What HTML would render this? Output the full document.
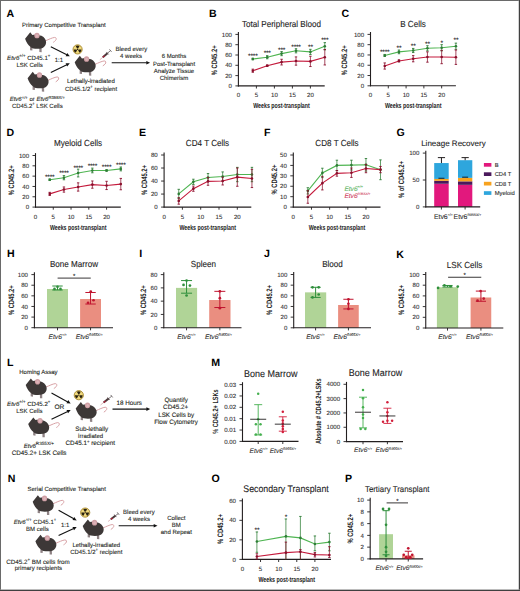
<!DOCTYPE html>
<html><head><meta charset="utf-8"><style>html,body{margin:0;padding:0;background:#fff;}svg{display:block;}</style></head>
<body>
<svg width="520" height="591" viewBox="0 0 520 591" font-family='"Liberation Sans", sans-serif' text-rendering="geometricPrecision">
<rect width="520" height="591" fill="#fff"/>
<text x="6.60" y="16.60" font-size="10.6" font-weight="bold" fill="#000">A</text>
<text x="208.90" y="16.60" font-size="10.6" font-weight="bold" fill="#000">B</text>
<text x="341.50" y="16.60" font-size="10.6" font-weight="bold" fill="#000">C</text>
<text x="6.40" y="136.00" font-size="10.6" font-weight="bold" fill="#000">D</text>
<text x="139.00" y="136.00" font-size="10.6" font-weight="bold" fill="#000">E</text>
<text x="264.00" y="136.00" font-size="10.6" font-weight="bold" fill="#000">F</text>
<text x="396.50" y="136.00" font-size="10.6" font-weight="bold" fill="#000">G</text>
<text x="7.00" y="257.20" font-size="10.6" font-weight="bold" fill="#000">H</text>
<text x="139.30" y="257.20" font-size="10.6" font-weight="bold" fill="#000">I</text>
<text x="264.10" y="257.20" font-size="10.6" font-weight="bold" fill="#000">J</text>
<text x="396.20" y="257.60" font-size="10.6" font-weight="bold" fill="#000">K</text>
<text x="7.00" y="366.00" font-size="10.6" font-weight="bold" fill="#000">L</text>
<text x="211.20" y="366.00" font-size="10.6" font-weight="bold" fill="#000">M</text>
<text x="7.80" y="482.40" font-size="10.6" font-weight="bold" fill="#000">N</text>
<text x="211.40" y="482.00" font-size="10.6" font-weight="bold" fill="#000">O</text>
<text x="345.00" y="481.80" font-size="10.6" font-weight="bold" fill="#000">P</text>
<text x="0.00" y="0.00" font-size="8.829" text-anchor="middle" fill="#222" transform="translate(281.50,26.50) scale(0.917,1)" stroke="#222" stroke-width="0.1">Total Peripheral Blood</text>
<line x1="238.40" y1="32.00" x2="238.40" y2="86.40" stroke="#231f20" stroke-width="1.1"/>
<line x1="235.40" y1="85.90" x2="238.40" y2="85.90" stroke="#231f20" stroke-width="0.9"/>
<text x="232.00" y="88.04" font-size="6.1" text-anchor="end" fill="#333" stroke="#333" stroke-width="0.1">0</text>
<line x1="235.40" y1="75.60" x2="238.40" y2="75.60" stroke="#231f20" stroke-width="0.9"/>
<text x="232.00" y="77.74" font-size="6.1" text-anchor="end" fill="#333" stroke="#333" stroke-width="0.1">20</text>
<line x1="235.40" y1="65.30" x2="238.40" y2="65.30" stroke="#231f20" stroke-width="0.9"/>
<text x="232.00" y="67.44" font-size="6.1" text-anchor="end" fill="#333" stroke="#333" stroke-width="0.1">40</text>
<line x1="235.40" y1="55.00" x2="238.40" y2="55.00" stroke="#231f20" stroke-width="0.9"/>
<text x="232.00" y="57.13" font-size="6.1" text-anchor="end" fill="#333" stroke="#333" stroke-width="0.1">60</text>
<line x1="235.40" y1="44.70" x2="238.40" y2="44.70" stroke="#231f20" stroke-width="0.9"/>
<text x="232.00" y="46.83" font-size="6.1" text-anchor="end" fill="#333" stroke="#333" stroke-width="0.1">80</text>
<line x1="235.40" y1="34.40" x2="238.40" y2="34.40" stroke="#231f20" stroke-width="0.9"/>
<text x="232.00" y="36.53" font-size="6.1" text-anchor="end" fill="#333" stroke="#333" stroke-width="0.1">100</text>
<line x1="237.90" y1="85.90" x2="324.70" y2="85.90" stroke="#231f20" stroke-width="1.1"/>
<text x="238.40" y="97.30" font-size="6.1" text-anchor="middle" fill="#333" stroke="#333" stroke-width="0.1">0</text>
<line x1="256.40" y1="85.90" x2="256.40" y2="88.50" stroke="#231f20" stroke-width="0.9"/>
<text x="256.40" y="97.30" font-size="6.1" text-anchor="middle" fill="#333" stroke="#333" stroke-width="0.1">5</text>
<line x1="274.40" y1="85.90" x2="274.40" y2="88.50" stroke="#231f20" stroke-width="0.9"/>
<text x="274.40" y="97.30" font-size="6.1" text-anchor="middle" fill="#333" stroke="#333" stroke-width="0.1">10</text>
<line x1="292.40" y1="85.90" x2="292.40" y2="88.50" stroke="#231f20" stroke-width="0.9"/>
<text x="292.40" y="97.30" font-size="6.1" text-anchor="middle" fill="#333" stroke="#333" stroke-width="0.1">15</text>
<line x1="310.40" y1="85.90" x2="310.40" y2="88.50" stroke="#231f20" stroke-width="0.9"/>
<text x="310.40" y="97.30" font-size="6.1" text-anchor="middle" fill="#333" stroke="#333" stroke-width="0.1">20</text>
<polyline points="252.80,59.02 267.20,57.21 281.60,53.61 296.00,50.78 310.40,51.91 324.80,46.24" fill="none" stroke="#4fb552" stroke-width="1.1"/>
<line x1="252.80" y1="58.24" x2="252.80" y2="59.79" stroke="#2e7d36" stroke-width="0.75"/>
<line x1="251.60" y1="58.24" x2="254.00" y2="58.24" stroke="#2e7d36" stroke-width="0.9"/>
<line x1="251.60" y1="59.79" x2="254.00" y2="59.79" stroke="#2e7d36" stroke-width="0.9"/>
<circle cx="252.80" cy="59.02" r="1.3" fill="#2e7d36"/>
<line x1="267.20" y1="55.67" x2="267.20" y2="58.76" stroke="#2e7d36" stroke-width="0.75"/>
<line x1="266.00" y1="55.67" x2="268.40" y2="55.67" stroke="#2e7d36" stroke-width="0.9"/>
<line x1="266.00" y1="58.76" x2="268.40" y2="58.76" stroke="#2e7d36" stroke-width="0.9"/>
<circle cx="267.20" cy="57.21" r="1.3" fill="#2e7d36"/>
<line x1="281.60" y1="51.55" x2="281.60" y2="55.67" stroke="#2e7d36" stroke-width="0.75"/>
<line x1="280.40" y1="51.55" x2="282.80" y2="51.55" stroke="#2e7d36" stroke-width="0.9"/>
<line x1="280.40" y1="55.67" x2="282.80" y2="55.67" stroke="#2e7d36" stroke-width="0.9"/>
<circle cx="281.60" cy="53.61" r="1.3" fill="#2e7d36"/>
<line x1="296.00" y1="48.72" x2="296.00" y2="52.84" stroke="#2e7d36" stroke-width="0.75"/>
<line x1="294.80" y1="48.72" x2="297.20" y2="48.72" stroke="#2e7d36" stroke-width="0.9"/>
<line x1="294.80" y1="52.84" x2="297.20" y2="52.84" stroke="#2e7d36" stroke-width="0.9"/>
<circle cx="296.00" cy="50.78" r="1.3" fill="#2e7d36"/>
<line x1="310.40" y1="49.33" x2="310.40" y2="54.48" stroke="#2e7d36" stroke-width="0.75"/>
<line x1="309.20" y1="49.33" x2="311.60" y2="49.33" stroke="#2e7d36" stroke-width="0.9"/>
<line x1="309.20" y1="54.48" x2="311.60" y2="54.48" stroke="#2e7d36" stroke-width="0.9"/>
<circle cx="310.40" cy="51.91" r="1.3" fill="#2e7d36"/>
<line x1="324.80" y1="42.64" x2="324.80" y2="49.85" stroke="#2e7d36" stroke-width="0.75"/>
<line x1="323.60" y1="42.64" x2="326.00" y2="42.64" stroke="#2e7d36" stroke-width="0.9"/>
<line x1="323.60" y1="49.85" x2="326.00" y2="49.85" stroke="#2e7d36" stroke-width="0.9"/>
<circle cx="324.80" cy="46.24" r="1.3" fill="#2e7d36"/>
<polyline points="252.80,70.71 267.20,65.71 281.60,62.11 296.00,61.03 310.40,61.39 324.80,57.21" fill="none" stroke="#c41a3c" stroke-width="1.1"/>
<line x1="252.80" y1="69.16" x2="252.80" y2="72.25" stroke="#8a0f2c" stroke-width="0.75"/>
<line x1="251.60" y1="69.16" x2="254.00" y2="69.16" stroke="#8a0f2c" stroke-width="0.9"/>
<line x1="251.60" y1="72.25" x2="254.00" y2="72.25" stroke="#8a0f2c" stroke-width="0.9"/>
<circle cx="252.80" cy="70.71" r="1.3" fill="#8a0f2c"/>
<line x1="267.20" y1="64.94" x2="267.20" y2="66.48" stroke="#8a0f2c" stroke-width="0.75"/>
<line x1="266.00" y1="64.94" x2="268.40" y2="64.94" stroke="#8a0f2c" stroke-width="0.9"/>
<line x1="266.00" y1="66.48" x2="268.40" y2="66.48" stroke="#8a0f2c" stroke-width="0.9"/>
<circle cx="267.20" cy="65.71" r="1.3" fill="#8a0f2c"/>
<line x1="281.60" y1="59.27" x2="281.60" y2="64.94" stroke="#8a0f2c" stroke-width="0.75"/>
<line x1="280.40" y1="59.27" x2="282.80" y2="59.27" stroke="#8a0f2c" stroke-width="0.9"/>
<line x1="280.40" y1="64.94" x2="282.80" y2="64.94" stroke="#8a0f2c" stroke-width="0.9"/>
<circle cx="281.60" cy="62.11" r="1.3" fill="#8a0f2c"/>
<line x1="296.00" y1="56.91" x2="296.00" y2="65.15" stroke="#8a0f2c" stroke-width="0.75"/>
<line x1="294.80" y1="56.91" x2="297.20" y2="56.91" stroke="#8a0f2c" stroke-width="0.9"/>
<line x1="294.80" y1="65.15" x2="297.20" y2="65.15" stroke="#8a0f2c" stroke-width="0.9"/>
<circle cx="296.00" cy="61.03" r="1.3" fill="#8a0f2c"/>
<line x1="310.40" y1="56.24" x2="310.40" y2="66.54" stroke="#8a0f2c" stroke-width="0.75"/>
<line x1="309.20" y1="56.24" x2="311.60" y2="56.24" stroke="#8a0f2c" stroke-width="0.9"/>
<line x1="309.20" y1="66.54" x2="311.60" y2="66.54" stroke="#8a0f2c" stroke-width="0.9"/>
<circle cx="310.40" cy="61.39" r="1.3" fill="#8a0f2c"/>
<line x1="324.80" y1="49.49" x2="324.80" y2="64.94" stroke="#8a0f2c" stroke-width="0.75"/>
<line x1="323.60" y1="49.49" x2="326.00" y2="49.49" stroke="#8a0f2c" stroke-width="0.9"/>
<line x1="323.60" y1="64.94" x2="326.00" y2="64.94" stroke="#8a0f2c" stroke-width="0.9"/>
<circle cx="324.80" cy="57.21" r="1.3" fill="#8a0f2c"/>
<text x="252.80" y="58.00" font-size="6.6" text-anchor="middle" fill="#1a1a1a" letter-spacing="-0.2" stroke="#1a1a1a" stroke-width="0.1">****</text>
<text x="267.20" y="54.50" font-size="6.6" text-anchor="middle" fill="#1a1a1a" letter-spacing="-0.2" stroke="#1a1a1a" stroke-width="0.1">***</text>
<text x="281.60" y="51.60" font-size="6.6" text-anchor="middle" fill="#1a1a1a" letter-spacing="-0.2" stroke="#1a1a1a" stroke-width="0.1">***</text>
<text x="296.00" y="48.50" font-size="6.6" text-anchor="middle" fill="#1a1a1a" letter-spacing="-0.2" stroke="#1a1a1a" stroke-width="0.1">****</text>
<text x="310.40" y="49.20" font-size="6.6" text-anchor="middle" fill="#1a1a1a" letter-spacing="-0.2" stroke="#1a1a1a" stroke-width="0.1">**</text>
<text x="324.80" y="41.80" font-size="6.6" text-anchor="middle" fill="#1a1a1a" letter-spacing="-0.2" stroke="#1a1a1a" stroke-width="0.1">***</text>
<text x="0.00" y="0.00" font-size="7.9" text-anchor="middle" font-weight="bold" fill="#222" transform="translate(216.70,60.40) rotate(-90) scale(0.735,1)">% CD45.2+</text>
<text x="0.00" y="0.00" font-size="7.4" text-anchor="middle" font-weight="bold" fill="#222" transform="translate(281.50,108.30) scale(0.715,1)">Weeks post-transplant</text>
<text x="0.00" y="0.00" font-size="8.829" text-anchor="middle" fill="#222" transform="translate(413.00,26.50) scale(0.917,1)" stroke="#222" stroke-width="0.1">B Cells</text>
<line x1="370.50" y1="32.00" x2="370.50" y2="86.30" stroke="#231f20" stroke-width="1.1"/>
<line x1="367.50" y1="85.80" x2="370.50" y2="85.80" stroke="#231f20" stroke-width="0.9"/>
<text x="364.10" y="87.94" font-size="6.1" text-anchor="end" fill="#333" stroke="#333" stroke-width="0.1">0</text>
<line x1="367.50" y1="75.52" x2="370.50" y2="75.52" stroke="#231f20" stroke-width="0.9"/>
<text x="364.10" y="77.66" font-size="6.1" text-anchor="end" fill="#333" stroke="#333" stroke-width="0.1">20</text>
<line x1="367.50" y1="65.24" x2="370.50" y2="65.24" stroke="#231f20" stroke-width="0.9"/>
<text x="364.10" y="67.38" font-size="6.1" text-anchor="end" fill="#333" stroke="#333" stroke-width="0.1">40</text>
<line x1="367.50" y1="54.96" x2="370.50" y2="54.96" stroke="#231f20" stroke-width="0.9"/>
<text x="364.10" y="57.09" font-size="6.1" text-anchor="end" fill="#333" stroke="#333" stroke-width="0.1">60</text>
<line x1="367.50" y1="44.68" x2="370.50" y2="44.68" stroke="#231f20" stroke-width="0.9"/>
<text x="364.10" y="46.81" font-size="6.1" text-anchor="end" fill="#333" stroke="#333" stroke-width="0.1">80</text>
<line x1="367.50" y1="34.40" x2="370.50" y2="34.40" stroke="#231f20" stroke-width="0.9"/>
<text x="364.10" y="36.53" font-size="6.1" text-anchor="end" fill="#333" stroke="#333" stroke-width="0.1">100</text>
<line x1="370.00" y1="85.80" x2="455.90" y2="85.80" stroke="#231f20" stroke-width="1.1"/>
<text x="370.50" y="97.20" font-size="6.1" text-anchor="middle" fill="#333" stroke="#333" stroke-width="0.1">0</text>
<line x1="388.29" y1="85.80" x2="388.29" y2="88.40" stroke="#231f20" stroke-width="0.9"/>
<text x="388.29" y="97.20" font-size="6.1" text-anchor="middle" fill="#333" stroke="#333" stroke-width="0.1">5</text>
<line x1="406.08" y1="85.80" x2="406.08" y2="88.40" stroke="#231f20" stroke-width="0.9"/>
<text x="406.08" y="97.20" font-size="6.1" text-anchor="middle" fill="#333" stroke="#333" stroke-width="0.1">10</text>
<line x1="423.87" y1="85.80" x2="423.87" y2="88.40" stroke="#231f20" stroke-width="0.9"/>
<text x="423.87" y="97.20" font-size="6.1" text-anchor="middle" fill="#333" stroke="#333" stroke-width="0.1">15</text>
<line x1="441.66" y1="85.80" x2="441.66" y2="88.40" stroke="#231f20" stroke-width="0.9"/>
<text x="441.66" y="97.20" font-size="6.1" text-anchor="middle" fill="#333" stroke="#333" stroke-width="0.1">20</text>
<polyline points="384.73,55.47 398.96,51.88 413.20,50.49 427.43,48.28 441.66,47.76 455.89,46.22" fill="none" stroke="#4fb552" stroke-width="1.1"/>
<line x1="384.73" y1="54.45" x2="384.73" y2="56.50" stroke="#2e7d36" stroke-width="0.75"/>
<line x1="383.53" y1="54.45" x2="385.93" y2="54.45" stroke="#2e7d36" stroke-width="0.9"/>
<line x1="383.53" y1="56.50" x2="385.93" y2="56.50" stroke="#2e7d36" stroke-width="0.9"/>
<circle cx="384.73" cy="55.47" r="1.3" fill="#2e7d36"/>
<line x1="398.96" y1="50.03" x2="398.96" y2="53.73" stroke="#2e7d36" stroke-width="0.75"/>
<line x1="397.76" y1="50.03" x2="400.16" y2="50.03" stroke="#2e7d36" stroke-width="0.9"/>
<line x1="397.76" y1="53.73" x2="400.16" y2="53.73" stroke="#2e7d36" stroke-width="0.9"/>
<circle cx="398.96" cy="51.88" r="1.3" fill="#2e7d36"/>
<line x1="413.20" y1="48.43" x2="413.20" y2="52.54" stroke="#2e7d36" stroke-width="0.75"/>
<line x1="412.00" y1="48.43" x2="414.40" y2="48.43" stroke="#2e7d36" stroke-width="0.9"/>
<line x1="412.00" y1="52.54" x2="414.40" y2="52.54" stroke="#2e7d36" stroke-width="0.9"/>
<circle cx="413.20" cy="50.49" r="1.3" fill="#2e7d36"/>
<line x1="427.43" y1="45.71" x2="427.43" y2="50.85" stroke="#2e7d36" stroke-width="0.75"/>
<line x1="426.23" y1="45.71" x2="428.63" y2="45.71" stroke="#2e7d36" stroke-width="0.9"/>
<line x1="426.23" y1="50.85" x2="428.63" y2="50.85" stroke="#2e7d36" stroke-width="0.9"/>
<circle cx="427.43" cy="48.28" r="1.3" fill="#2e7d36"/>
<line x1="441.66" y1="44.68" x2="441.66" y2="50.85" stroke="#2e7d36" stroke-width="0.75"/>
<line x1="440.46" y1="44.68" x2="442.86" y2="44.68" stroke="#2e7d36" stroke-width="0.9"/>
<line x1="440.46" y1="50.85" x2="442.86" y2="50.85" stroke="#2e7d36" stroke-width="0.9"/>
<circle cx="441.66" cy="47.76" r="1.3" fill="#2e7d36"/>
<line x1="455.89" y1="43.14" x2="455.89" y2="49.31" stroke="#2e7d36" stroke-width="0.75"/>
<line x1="454.69" y1="43.14" x2="457.09" y2="43.14" stroke="#2e7d36" stroke-width="0.9"/>
<line x1="454.69" y1="49.31" x2="457.09" y2="49.31" stroke="#2e7d36" stroke-width="0.9"/>
<circle cx="455.89" cy="46.22" r="1.3" fill="#2e7d36"/>
<polyline points="384.73,66.01 398.96,60.92 413.20,58.71 427.43,57.02 441.66,57.02 455.89,57.22" fill="none" stroke="#c41a3c" stroke-width="1.1"/>
<line x1="384.73" y1="62.93" x2="384.73" y2="69.09" stroke="#8a0f2c" stroke-width="0.75"/>
<line x1="383.53" y1="62.93" x2="385.93" y2="62.93" stroke="#8a0f2c" stroke-width="0.9"/>
<line x1="383.53" y1="69.09" x2="385.93" y2="69.09" stroke="#8a0f2c" stroke-width="0.9"/>
<circle cx="384.73" cy="66.01" r="1.3" fill="#8a0f2c"/>
<line x1="398.96" y1="59.89" x2="398.96" y2="61.95" stroke="#8a0f2c" stroke-width="0.75"/>
<line x1="397.76" y1="59.89" x2="400.16" y2="59.89" stroke="#8a0f2c" stroke-width="0.9"/>
<line x1="397.76" y1="61.95" x2="400.16" y2="61.95" stroke="#8a0f2c" stroke-width="0.9"/>
<circle cx="398.96" cy="60.92" r="1.3" fill="#8a0f2c"/>
<line x1="413.20" y1="55.63" x2="413.20" y2="61.80" stroke="#8a0f2c" stroke-width="0.75"/>
<line x1="412.00" y1="55.63" x2="414.40" y2="55.63" stroke="#8a0f2c" stroke-width="0.9"/>
<line x1="412.00" y1="61.80" x2="414.40" y2="61.80" stroke="#8a0f2c" stroke-width="0.9"/>
<circle cx="413.20" cy="58.71" r="1.3" fill="#8a0f2c"/>
<line x1="427.43" y1="51.88" x2="427.43" y2="62.16" stroke="#8a0f2c" stroke-width="0.75"/>
<line x1="426.23" y1="51.88" x2="428.63" y2="51.88" stroke="#8a0f2c" stroke-width="0.9"/>
<line x1="426.23" y1="62.16" x2="428.63" y2="62.16" stroke="#8a0f2c" stroke-width="0.9"/>
<circle cx="427.43" cy="57.02" r="1.3" fill="#8a0f2c"/>
<line x1="441.66" y1="50.33" x2="441.66" y2="63.70" stroke="#8a0f2c" stroke-width="0.75"/>
<line x1="440.46" y1="50.33" x2="442.86" y2="50.33" stroke="#8a0f2c" stroke-width="0.9"/>
<line x1="440.46" y1="63.70" x2="442.86" y2="63.70" stroke="#8a0f2c" stroke-width="0.9"/>
<circle cx="441.66" cy="57.02" r="1.3" fill="#8a0f2c"/>
<line x1="455.89" y1="50.03" x2="455.89" y2="64.42" stroke="#8a0f2c" stroke-width="0.75"/>
<line x1="454.69" y1="50.03" x2="457.09" y2="50.03" stroke="#8a0f2c" stroke-width="0.9"/>
<line x1="454.69" y1="64.42" x2="457.09" y2="64.42" stroke="#8a0f2c" stroke-width="0.9"/>
<circle cx="455.89" cy="57.22" r="1.3" fill="#8a0f2c"/>
<text x="384.73" y="54.40" font-size="6.6" text-anchor="middle" fill="#1a1a1a" letter-spacing="-0.2" stroke="#1a1a1a" stroke-width="0.1">****</text>
<text x="398.96" y="49.60" font-size="6.6" text-anchor="middle" fill="#1a1a1a" letter-spacing="-0.2" stroke="#1a1a1a" stroke-width="0.1">**</text>
<text x="413.20" y="48.40" font-size="6.6" text-anchor="middle" fill="#1a1a1a" letter-spacing="-0.2" stroke="#1a1a1a" stroke-width="0.1">**</text>
<text x="427.43" y="46.00" font-size="6.6" text-anchor="middle" fill="#1a1a1a" letter-spacing="-0.2" stroke="#1a1a1a" stroke-width="0.1">**</text>
<text x="441.66" y="44.70" font-size="6.6" text-anchor="middle" fill="#1a1a1a" letter-spacing="-0.2" stroke="#1a1a1a" stroke-width="0.1">*</text>
<text x="455.89" y="42.00" font-size="6.6" text-anchor="middle" fill="#1a1a1a" letter-spacing="-0.2" stroke="#1a1a1a" stroke-width="0.1">**</text>
<text x="0.00" y="0.00" font-size="7.9" text-anchor="middle" font-weight="bold" fill="#222" transform="translate(347.40,60.40) rotate(-90) scale(0.735,1)">% CD45.2+</text>
<text x="0.00" y="0.00" font-size="7.4" text-anchor="middle" font-weight="bold" fill="#222" transform="translate(413.20,108.30) scale(0.715,1)">Weeks post-transplant</text>
<text x="0.00" y="0.00" font-size="8.829" text-anchor="middle" fill="#222" transform="translate(78.00,145.60) scale(0.917,1)" stroke="#222" stroke-width="0.1">Myeloid Cells</text>
<line x1="35.50" y1="153.10" x2="35.50" y2="207.60" stroke="#231f20" stroke-width="1.1"/>
<line x1="32.50" y1="207.10" x2="35.50" y2="207.10" stroke="#231f20" stroke-width="0.9"/>
<text x="29.10" y="209.23" font-size="6.1" text-anchor="end" fill="#333" stroke="#333" stroke-width="0.1">0</text>
<line x1="32.50" y1="196.78" x2="35.50" y2="196.78" stroke="#231f20" stroke-width="0.9"/>
<text x="29.10" y="198.91" font-size="6.1" text-anchor="end" fill="#333" stroke="#333" stroke-width="0.1">20</text>
<line x1="32.50" y1="186.46" x2="35.50" y2="186.46" stroke="#231f20" stroke-width="0.9"/>
<text x="29.10" y="188.59" font-size="6.1" text-anchor="end" fill="#333" stroke="#333" stroke-width="0.1">40</text>
<line x1="32.50" y1="176.14" x2="35.50" y2="176.14" stroke="#231f20" stroke-width="0.9"/>
<text x="29.10" y="178.27" font-size="6.1" text-anchor="end" fill="#333" stroke="#333" stroke-width="0.1">60</text>
<line x1="32.50" y1="165.82" x2="35.50" y2="165.82" stroke="#231f20" stroke-width="0.9"/>
<text x="29.10" y="167.95" font-size="6.1" text-anchor="end" fill="#333" stroke="#333" stroke-width="0.1">80</text>
<line x1="32.50" y1="155.50" x2="35.50" y2="155.50" stroke="#231f20" stroke-width="0.9"/>
<text x="29.10" y="157.63" font-size="6.1" text-anchor="end" fill="#333" stroke="#333" stroke-width="0.1">100</text>
<line x1="35.00" y1="207.10" x2="120.80" y2="207.10" stroke="#231f20" stroke-width="1.1"/>
<text x="35.50" y="218.50" font-size="6.1" text-anchor="middle" fill="#333" stroke="#333" stroke-width="0.1">0</text>
<line x1="53.27" y1="207.10" x2="53.27" y2="209.70" stroke="#231f20" stroke-width="0.9"/>
<text x="53.27" y="218.50" font-size="6.1" text-anchor="middle" fill="#333" stroke="#333" stroke-width="0.1">5</text>
<line x1="71.04" y1="207.10" x2="71.04" y2="209.70" stroke="#231f20" stroke-width="0.9"/>
<text x="71.04" y="218.50" font-size="6.1" text-anchor="middle" fill="#333" stroke="#333" stroke-width="0.1">10</text>
<line x1="88.81" y1="207.10" x2="88.81" y2="209.70" stroke="#231f20" stroke-width="0.9"/>
<text x="88.81" y="218.50" font-size="6.1" text-anchor="middle" fill="#333" stroke="#333" stroke-width="0.1">15</text>
<line x1="106.58" y1="207.10" x2="106.58" y2="209.70" stroke="#231f20" stroke-width="0.9"/>
<text x="106.58" y="218.50" font-size="6.1" text-anchor="middle" fill="#333" stroke="#333" stroke-width="0.1">20</text>
<polyline points="49.72,179.75 63.93,177.69 78.15,173.04 92.36,170.46 106.58,170.46 120.80,168.92" fill="none" stroke="#4fb552" stroke-width="1.1"/>
<line x1="49.72" y1="178.98" x2="49.72" y2="180.53" stroke="#2e7d36" stroke-width="0.75"/>
<line x1="48.52" y1="178.98" x2="50.92" y2="178.98" stroke="#2e7d36" stroke-width="0.9"/>
<line x1="48.52" y1="180.53" x2="50.92" y2="180.53" stroke="#2e7d36" stroke-width="0.9"/>
<circle cx="49.72" cy="179.75" r="1.3" fill="#2e7d36"/>
<line x1="63.93" y1="175.62" x2="63.93" y2="179.75" stroke="#2e7d36" stroke-width="0.75"/>
<line x1="62.73" y1="175.62" x2="65.13" y2="175.62" stroke="#2e7d36" stroke-width="0.9"/>
<line x1="62.73" y1="179.75" x2="65.13" y2="179.75" stroke="#2e7d36" stroke-width="0.9"/>
<circle cx="63.93" cy="177.69" r="1.3" fill="#2e7d36"/>
<line x1="78.15" y1="169.17" x2="78.15" y2="176.91" stroke="#2e7d36" stroke-width="0.75"/>
<line x1="76.95" y1="169.17" x2="79.35" y2="169.17" stroke="#2e7d36" stroke-width="0.9"/>
<line x1="76.95" y1="176.91" x2="79.35" y2="176.91" stroke="#2e7d36" stroke-width="0.9"/>
<circle cx="78.15" cy="173.04" r="1.3" fill="#2e7d36"/>
<line x1="92.36" y1="168.14" x2="92.36" y2="172.79" stroke="#2e7d36" stroke-width="0.75"/>
<line x1="91.16" y1="168.14" x2="93.56" y2="168.14" stroke="#2e7d36" stroke-width="0.9"/>
<line x1="91.16" y1="172.79" x2="93.56" y2="172.79" stroke="#2e7d36" stroke-width="0.9"/>
<circle cx="92.36" cy="170.46" r="1.3" fill="#2e7d36"/>
<line x1="106.58" y1="169.69" x2="106.58" y2="171.24" stroke="#2e7d36" stroke-width="0.75"/>
<line x1="105.38" y1="169.69" x2="107.78" y2="169.69" stroke="#2e7d36" stroke-width="0.9"/>
<line x1="105.38" y1="171.24" x2="107.78" y2="171.24" stroke="#2e7d36" stroke-width="0.9"/>
<circle cx="106.58" cy="170.46" r="1.3" fill="#2e7d36"/>
<line x1="120.80" y1="167.01" x2="120.80" y2="170.83" stroke="#2e7d36" stroke-width="0.75"/>
<line x1="119.60" y1="167.01" x2="122.00" y2="167.01" stroke="#2e7d36" stroke-width="0.9"/>
<line x1="119.60" y1="170.83" x2="122.00" y2="170.83" stroke="#2e7d36" stroke-width="0.9"/>
<circle cx="120.80" cy="168.92" r="1.3" fill="#2e7d36"/>
<polyline points="49.72,193.89 63.93,189.56 78.15,186.98 92.36,184.60 106.58,185.43 120.80,184.09" fill="none" stroke="#c41a3c" stroke-width="1.1"/>
<line x1="49.72" y1="192.34" x2="49.72" y2="195.44" stroke="#8a0f2c" stroke-width="0.75"/>
<line x1="48.52" y1="192.34" x2="50.92" y2="192.34" stroke="#8a0f2c" stroke-width="0.9"/>
<line x1="48.52" y1="195.44" x2="50.92" y2="195.44" stroke="#8a0f2c" stroke-width="0.9"/>
<circle cx="49.72" cy="193.89" r="1.3" fill="#8a0f2c"/>
<line x1="63.93" y1="186.98" x2="63.93" y2="192.14" stroke="#8a0f2c" stroke-width="0.75"/>
<line x1="62.73" y1="186.98" x2="65.13" y2="186.98" stroke="#8a0f2c" stroke-width="0.9"/>
<line x1="62.73" y1="192.14" x2="65.13" y2="192.14" stroke="#8a0f2c" stroke-width="0.9"/>
<circle cx="63.93" cy="189.56" r="1.3" fill="#8a0f2c"/>
<line x1="78.15" y1="182.85" x2="78.15" y2="191.10" stroke="#8a0f2c" stroke-width="0.75"/>
<line x1="76.95" y1="182.85" x2="79.35" y2="182.85" stroke="#8a0f2c" stroke-width="0.9"/>
<line x1="76.95" y1="191.10" x2="79.35" y2="191.10" stroke="#8a0f2c" stroke-width="0.9"/>
<circle cx="78.15" cy="186.98" r="1.3" fill="#8a0f2c"/>
<line x1="92.36" y1="180.99" x2="92.36" y2="188.21" stroke="#8a0f2c" stroke-width="0.75"/>
<line x1="91.16" y1="180.99" x2="93.56" y2="180.99" stroke="#8a0f2c" stroke-width="0.9"/>
<line x1="91.16" y1="188.21" x2="93.56" y2="188.21" stroke="#8a0f2c" stroke-width="0.9"/>
<circle cx="92.36" cy="184.60" r="1.3" fill="#8a0f2c"/>
<line x1="106.58" y1="181.30" x2="106.58" y2="189.56" stroke="#8a0f2c" stroke-width="0.75"/>
<line x1="105.38" y1="181.30" x2="107.78" y2="181.30" stroke="#8a0f2c" stroke-width="0.9"/>
<line x1="105.38" y1="189.56" x2="107.78" y2="189.56" stroke="#8a0f2c" stroke-width="0.9"/>
<circle cx="106.58" cy="185.43" r="1.3" fill="#8a0f2c"/>
<line x1="120.80" y1="178.41" x2="120.80" y2="189.76" stroke="#8a0f2c" stroke-width="0.75"/>
<line x1="119.60" y1="178.41" x2="122.00" y2="178.41" stroke="#8a0f2c" stroke-width="0.9"/>
<line x1="119.60" y1="189.76" x2="122.00" y2="189.76" stroke="#8a0f2c" stroke-width="0.9"/>
<circle cx="120.80" cy="184.09" r="1.3" fill="#8a0f2c"/>
<text x="49.72" y="178.70" font-size="6.6" text-anchor="middle" fill="#1a1a1a" letter-spacing="-0.2" stroke="#1a1a1a" stroke-width="0.1">****</text>
<text x="63.93" y="175.10" font-size="6.6" text-anchor="middle" fill="#1a1a1a" letter-spacing="-0.2" stroke="#1a1a1a" stroke-width="0.1">****</text>
<text x="78.15" y="169.70" font-size="6.6" text-anchor="middle" fill="#1a1a1a" letter-spacing="-0.2" stroke="#1a1a1a" stroke-width="0.1">****</text>
<text x="92.36" y="167.80" font-size="6.6" text-anchor="middle" fill="#1a1a1a" letter-spacing="-0.2" stroke="#1a1a1a" stroke-width="0.1">****</text>
<text x="106.58" y="169.40" font-size="6.6" text-anchor="middle" fill="#1a1a1a" letter-spacing="-0.2" stroke="#1a1a1a" stroke-width="0.1">****</text>
<text x="120.80" y="166.60" font-size="6.6" text-anchor="middle" fill="#1a1a1a" letter-spacing="-0.2" stroke="#1a1a1a" stroke-width="0.1">****</text>
<text x="0.00" y="0.00" font-size="7.9" text-anchor="middle" font-weight="bold" fill="#222" transform="translate(14.20,180.40) rotate(-90) scale(0.735,1)">% CD45.2+</text>
<text x="0.00" y="0.00" font-size="7.4" text-anchor="middle" font-weight="bold" fill="#222" transform="translate(78.20,229.50) scale(0.715,1)">Weeks post-transplant</text>
<text x="0.00" y="0.00" font-size="8.829" text-anchor="middle" fill="#222" transform="translate(207.50,145.60) scale(0.917,1)" stroke="#222" stroke-width="0.1">CD4 T Cells</text>
<line x1="164.10" y1="152.60" x2="164.10" y2="207.60" stroke="#231f20" stroke-width="1.1"/>
<line x1="161.10" y1="207.10" x2="164.10" y2="207.10" stroke="#231f20" stroke-width="0.9"/>
<text x="157.70" y="209.23" font-size="6.1" text-anchor="end" fill="#333" stroke="#333" stroke-width="0.1">0</text>
<line x1="161.10" y1="194.07" x2="164.10" y2="194.07" stroke="#231f20" stroke-width="0.9"/>
<text x="157.70" y="196.21" font-size="6.1" text-anchor="end" fill="#333" stroke="#333" stroke-width="0.1">20</text>
<line x1="161.10" y1="181.05" x2="164.10" y2="181.05" stroke="#231f20" stroke-width="0.9"/>
<text x="157.70" y="183.19" font-size="6.1" text-anchor="end" fill="#333" stroke="#333" stroke-width="0.1">40</text>
<line x1="161.10" y1="168.03" x2="164.10" y2="168.03" stroke="#231f20" stroke-width="0.9"/>
<text x="157.70" y="170.16" font-size="6.1" text-anchor="end" fill="#333" stroke="#333" stroke-width="0.1">60</text>
<line x1="161.10" y1="155.00" x2="164.10" y2="155.00" stroke="#231f20" stroke-width="0.9"/>
<text x="157.70" y="157.13" font-size="6.1" text-anchor="end" fill="#333" stroke="#333" stroke-width="0.1">80</text>
<line x1="163.60" y1="207.10" x2="251.30" y2="207.10" stroke="#231f20" stroke-width="1.1"/>
<text x="164.10" y="218.50" font-size="6.1" text-anchor="middle" fill="#333" stroke="#333" stroke-width="0.1">0</text>
<line x1="182.40" y1="207.10" x2="182.40" y2="209.70" stroke="#231f20" stroke-width="0.9"/>
<text x="182.40" y="218.50" font-size="6.1" text-anchor="middle" fill="#333" stroke="#333" stroke-width="0.1">5</text>
<line x1="200.70" y1="207.10" x2="200.70" y2="209.70" stroke="#231f20" stroke-width="0.9"/>
<text x="200.70" y="218.50" font-size="6.1" text-anchor="middle" fill="#333" stroke="#333" stroke-width="0.1">10</text>
<line x1="219.00" y1="207.10" x2="219.00" y2="209.70" stroke="#231f20" stroke-width="0.9"/>
<text x="219.00" y="218.50" font-size="6.1" text-anchor="middle" fill="#333" stroke="#333" stroke-width="0.1">15</text>
<line x1="237.30" y1="207.10" x2="237.30" y2="209.70" stroke="#231f20" stroke-width="0.9"/>
<text x="237.30" y="218.50" font-size="6.1" text-anchor="middle" fill="#333" stroke="#333" stroke-width="0.1">20</text>
<polyline points="178.74,193.88 193.38,181.83 208.02,177.47 222.66,176.49 237.30,174.54 251.94,174.54" fill="none" stroke="#4fb552" stroke-width="1.1"/>
<line x1="178.74" y1="189.32" x2="178.74" y2="198.44" stroke="#2e7d36" stroke-width="0.75"/>
<line x1="177.54" y1="189.32" x2="179.94" y2="189.32" stroke="#2e7d36" stroke-width="0.9"/>
<line x1="177.54" y1="198.44" x2="179.94" y2="198.44" stroke="#2e7d36" stroke-width="0.9"/>
<circle cx="178.74" cy="193.88" r="1.3" fill="#2e7d36"/>
<line x1="193.38" y1="179.23" x2="193.38" y2="184.44" stroke="#2e7d36" stroke-width="0.75"/>
<line x1="192.18" y1="179.23" x2="194.58" y2="179.23" stroke="#2e7d36" stroke-width="0.9"/>
<line x1="192.18" y1="184.44" x2="194.58" y2="184.44" stroke="#2e7d36" stroke-width="0.9"/>
<circle cx="193.38" cy="181.83" r="1.3" fill="#2e7d36"/>
<line x1="208.02" y1="173.56" x2="208.02" y2="181.38" stroke="#2e7d36" stroke-width="0.75"/>
<line x1="206.82" y1="173.56" x2="209.22" y2="173.56" stroke="#2e7d36" stroke-width="0.9"/>
<line x1="206.82" y1="181.38" x2="209.22" y2="181.38" stroke="#2e7d36" stroke-width="0.9"/>
<circle cx="208.02" cy="177.47" r="1.3" fill="#2e7d36"/>
<line x1="222.66" y1="171.93" x2="222.66" y2="181.05" stroke="#2e7d36" stroke-width="0.75"/>
<line x1="221.46" y1="171.93" x2="223.86" y2="171.93" stroke="#2e7d36" stroke-width="0.9"/>
<line x1="221.46" y1="181.05" x2="223.86" y2="181.05" stroke="#2e7d36" stroke-width="0.9"/>
<circle cx="222.66" cy="176.49" r="1.3" fill="#2e7d36"/>
<line x1="237.30" y1="167.37" x2="237.30" y2="181.70" stroke="#2e7d36" stroke-width="0.75"/>
<line x1="236.10" y1="167.37" x2="238.50" y2="167.37" stroke="#2e7d36" stroke-width="0.9"/>
<line x1="236.10" y1="181.70" x2="238.50" y2="181.70" stroke="#2e7d36" stroke-width="0.9"/>
<circle cx="237.30" cy="174.54" r="1.3" fill="#2e7d36"/>
<line x1="251.94" y1="167.37" x2="251.94" y2="181.70" stroke="#2e7d36" stroke-width="0.75"/>
<line x1="250.74" y1="167.37" x2="253.14" y2="167.37" stroke="#2e7d36" stroke-width="0.9"/>
<line x1="250.74" y1="181.70" x2="253.14" y2="181.70" stroke="#2e7d36" stroke-width="0.9"/>
<circle cx="251.94" cy="174.54" r="1.3" fill="#2e7d36"/>
<polyline points="178.74,200.91 193.38,188.67 208.02,181.38 222.66,181.05 237.30,177.14 251.94,178.44" fill="none" stroke="#c41a3c" stroke-width="1.1"/>
<line x1="178.74" y1="197.66" x2="178.74" y2="204.17" stroke="#8a0f2c" stroke-width="0.75"/>
<line x1="177.54" y1="197.66" x2="179.94" y2="197.66" stroke="#8a0f2c" stroke-width="0.9"/>
<line x1="177.54" y1="204.17" x2="179.94" y2="204.17" stroke="#8a0f2c" stroke-width="0.9"/>
<circle cx="178.74" cy="200.91" r="1.3" fill="#8a0f2c"/>
<line x1="193.38" y1="186.06" x2="193.38" y2="191.27" stroke="#8a0f2c" stroke-width="0.75"/>
<line x1="192.18" y1="186.06" x2="194.58" y2="186.06" stroke="#8a0f2c" stroke-width="0.9"/>
<line x1="192.18" y1="191.27" x2="194.58" y2="191.27" stroke="#8a0f2c" stroke-width="0.9"/>
<circle cx="193.38" cy="188.67" r="1.3" fill="#8a0f2c"/>
<line x1="208.02" y1="177.47" x2="208.02" y2="185.28" stroke="#8a0f2c" stroke-width="0.75"/>
<line x1="206.82" y1="177.47" x2="209.22" y2="177.47" stroke="#8a0f2c" stroke-width="0.9"/>
<line x1="206.82" y1="185.28" x2="209.22" y2="185.28" stroke="#8a0f2c" stroke-width="0.9"/>
<circle cx="208.02" cy="181.38" r="1.3" fill="#8a0f2c"/>
<line x1="222.66" y1="177.14" x2="222.66" y2="184.96" stroke="#8a0f2c" stroke-width="0.75"/>
<line x1="221.46" y1="177.14" x2="223.86" y2="177.14" stroke="#8a0f2c" stroke-width="0.9"/>
<line x1="221.46" y1="184.96" x2="223.86" y2="184.96" stroke="#8a0f2c" stroke-width="0.9"/>
<circle cx="222.66" cy="181.05" r="1.3" fill="#8a0f2c"/>
<line x1="237.30" y1="168.03" x2="237.30" y2="186.26" stroke="#8a0f2c" stroke-width="0.75"/>
<line x1="236.10" y1="168.03" x2="238.50" y2="168.03" stroke="#8a0f2c" stroke-width="0.9"/>
<line x1="236.10" y1="186.26" x2="238.50" y2="186.26" stroke="#8a0f2c" stroke-width="0.9"/>
<circle cx="237.30" cy="177.14" r="1.3" fill="#8a0f2c"/>
<line x1="251.94" y1="169.33" x2="251.94" y2="187.56" stroke="#8a0f2c" stroke-width="0.75"/>
<line x1="250.74" y1="169.33" x2="253.14" y2="169.33" stroke="#8a0f2c" stroke-width="0.9"/>
<line x1="250.74" y1="187.56" x2="253.14" y2="187.56" stroke="#8a0f2c" stroke-width="0.9"/>
<circle cx="251.94" cy="178.44" r="1.3" fill="#8a0f2c"/>
<text x="0.00" y="0.00" font-size="7.9" text-anchor="middle" font-weight="bold" fill="#222" transform="translate(146.50,180.00) rotate(-90) scale(0.735,1)">% CD45.2+</text>
<text x="0.00" y="0.00" font-size="7.4" text-anchor="middle" font-weight="bold" fill="#222" transform="translate(207.70,229.50) scale(0.715,1)">Weeks post-transplant</text>
<text x="0.00" y="0.00" font-size="8.829" text-anchor="middle" fill="#222" transform="translate(337.00,145.60) scale(0.917,1)" stroke="#222" stroke-width="0.1">CD8 T Cells</text>
<line x1="293.30" y1="152.60" x2="293.30" y2="207.60" stroke="#231f20" stroke-width="1.1"/>
<line x1="290.30" y1="207.10" x2="293.30" y2="207.10" stroke="#231f20" stroke-width="0.9"/>
<text x="286.90" y="209.23" font-size="6.1" text-anchor="end" fill="#333" stroke="#333" stroke-width="0.1">0</text>
<line x1="290.30" y1="196.68" x2="293.30" y2="196.68" stroke="#231f20" stroke-width="0.9"/>
<text x="286.90" y="198.81" font-size="6.1" text-anchor="end" fill="#333" stroke="#333" stroke-width="0.1">10</text>
<line x1="290.30" y1="186.26" x2="293.30" y2="186.26" stroke="#231f20" stroke-width="0.9"/>
<text x="286.90" y="188.39" font-size="6.1" text-anchor="end" fill="#333" stroke="#333" stroke-width="0.1">20</text>
<line x1="290.30" y1="175.84" x2="293.30" y2="175.84" stroke="#231f20" stroke-width="0.9"/>
<text x="286.90" y="177.97" font-size="6.1" text-anchor="end" fill="#333" stroke="#333" stroke-width="0.1">30</text>
<line x1="290.30" y1="165.42" x2="293.30" y2="165.42" stroke="#231f20" stroke-width="0.9"/>
<text x="286.90" y="167.55" font-size="6.1" text-anchor="end" fill="#333" stroke="#333" stroke-width="0.1">40</text>
<line x1="290.30" y1="155.00" x2="293.30" y2="155.00" stroke="#231f20" stroke-width="0.9"/>
<text x="286.90" y="157.13" font-size="6.1" text-anchor="end" fill="#333" stroke="#333" stroke-width="0.1">50</text>
<line x1="292.80" y1="207.10" x2="380.50" y2="207.10" stroke="#231f20" stroke-width="1.1"/>
<text x="293.30" y="218.50" font-size="6.1" text-anchor="middle" fill="#333" stroke="#333" stroke-width="0.1">0</text>
<line x1="311.47" y1="207.10" x2="311.47" y2="209.70" stroke="#231f20" stroke-width="0.9"/>
<text x="311.47" y="218.50" font-size="6.1" text-anchor="middle" fill="#333" stroke="#333" stroke-width="0.1">5</text>
<line x1="329.63" y1="207.10" x2="329.63" y2="209.70" stroke="#231f20" stroke-width="0.9"/>
<text x="329.63" y="218.50" font-size="6.1" text-anchor="middle" fill="#333" stroke="#333" stroke-width="0.1">10</text>
<line x1="347.80" y1="207.10" x2="347.80" y2="209.70" stroke="#231f20" stroke-width="0.9"/>
<text x="347.80" y="218.50" font-size="6.1" text-anchor="middle" fill="#333" stroke="#333" stroke-width="0.1">15</text>
<line x1="365.96" y1="207.10" x2="365.96" y2="209.70" stroke="#231f20" stroke-width="0.9"/>
<text x="365.96" y="218.50" font-size="6.1" text-anchor="middle" fill="#333" stroke="#333" stroke-width="0.1">20</text>
<polyline points="307.83,190.84 322.36,172.92 336.90,165.42 351.43,165.11 365.96,164.79 380.49,169.80" fill="none" stroke="#4fb552" stroke-width="1.1"/>
<line x1="307.83" y1="187.72" x2="307.83" y2="193.97" stroke="#2e7d36" stroke-width="0.75"/>
<line x1="306.63" y1="187.72" x2="309.03" y2="187.72" stroke="#2e7d36" stroke-width="0.9"/>
<line x1="306.63" y1="193.97" x2="309.03" y2="193.97" stroke="#2e7d36" stroke-width="0.9"/>
<circle cx="307.83" cy="190.84" r="1.3" fill="#2e7d36"/>
<line x1="322.36" y1="168.23" x2="322.36" y2="177.61" stroke="#2e7d36" stroke-width="0.75"/>
<line x1="321.16" y1="168.23" x2="323.56" y2="168.23" stroke="#2e7d36" stroke-width="0.9"/>
<line x1="321.16" y1="177.61" x2="323.56" y2="177.61" stroke="#2e7d36" stroke-width="0.9"/>
<circle cx="322.36" cy="172.92" r="1.3" fill="#2e7d36"/>
<line x1="336.90" y1="160.21" x2="336.90" y2="170.63" stroke="#2e7d36" stroke-width="0.75"/>
<line x1="335.70" y1="160.21" x2="338.10" y2="160.21" stroke="#2e7d36" stroke-width="0.9"/>
<line x1="335.70" y1="170.63" x2="338.10" y2="170.63" stroke="#2e7d36" stroke-width="0.9"/>
<circle cx="336.90" cy="165.42" r="1.3" fill="#2e7d36"/>
<line x1="351.43" y1="160.21" x2="351.43" y2="170.00" stroke="#2e7d36" stroke-width="0.75"/>
<line x1="350.23" y1="160.21" x2="352.63" y2="160.21" stroke="#2e7d36" stroke-width="0.9"/>
<line x1="350.23" y1="170.00" x2="352.63" y2="170.00" stroke="#2e7d36" stroke-width="0.9"/>
<circle cx="351.43" cy="165.11" r="1.3" fill="#2e7d36"/>
<line x1="365.96" y1="158.54" x2="365.96" y2="171.05" stroke="#2e7d36" stroke-width="0.75"/>
<line x1="364.76" y1="158.54" x2="367.16" y2="158.54" stroke="#2e7d36" stroke-width="0.9"/>
<line x1="364.76" y1="171.05" x2="367.16" y2="171.05" stroke="#2e7d36" stroke-width="0.9"/>
<circle cx="365.96" cy="164.79" r="1.3" fill="#2e7d36"/>
<line x1="380.49" y1="159.90" x2="380.49" y2="179.70" stroke="#2e7d36" stroke-width="0.75"/>
<line x1="379.29" y1="159.90" x2="381.69" y2="159.90" stroke="#2e7d36" stroke-width="0.9"/>
<line x1="379.29" y1="179.70" x2="381.69" y2="179.70" stroke="#2e7d36" stroke-width="0.9"/>
<circle cx="380.49" cy="169.80" r="1.3" fill="#2e7d36"/>
<polyline points="307.83,196.99 322.36,183.13 336.90,173.34 351.43,172.71 365.96,168.55 380.49,169.59" fill="none" stroke="#c41a3c" stroke-width="1.1"/>
<line x1="307.83" y1="190.74" x2="307.83" y2="203.24" stroke="#8a0f2c" stroke-width="0.75"/>
<line x1="306.63" y1="190.74" x2="309.03" y2="190.74" stroke="#8a0f2c" stroke-width="0.9"/>
<line x1="306.63" y1="203.24" x2="309.03" y2="203.24" stroke="#8a0f2c" stroke-width="0.9"/>
<circle cx="307.83" cy="196.99" r="1.3" fill="#8a0f2c"/>
<line x1="322.36" y1="176.36" x2="322.36" y2="189.91" stroke="#8a0f2c" stroke-width="0.75"/>
<line x1="321.16" y1="176.36" x2="323.56" y2="176.36" stroke="#8a0f2c" stroke-width="0.9"/>
<line x1="321.16" y1="189.91" x2="323.56" y2="189.91" stroke="#8a0f2c" stroke-width="0.9"/>
<circle cx="322.36" cy="183.13" r="1.3" fill="#8a0f2c"/>
<line x1="336.90" y1="170.53" x2="336.90" y2="176.15" stroke="#8a0f2c" stroke-width="0.75"/>
<line x1="335.70" y1="170.53" x2="338.10" y2="170.53" stroke="#8a0f2c" stroke-width="0.9"/>
<line x1="335.70" y1="176.15" x2="338.10" y2="176.15" stroke="#8a0f2c" stroke-width="0.9"/>
<circle cx="336.90" cy="173.34" r="1.3" fill="#8a0f2c"/>
<line x1="351.43" y1="168.03" x2="351.43" y2="177.40" stroke="#8a0f2c" stroke-width="0.75"/>
<line x1="350.23" y1="168.03" x2="352.63" y2="168.03" stroke="#8a0f2c" stroke-width="0.9"/>
<line x1="350.23" y1="177.40" x2="352.63" y2="177.40" stroke="#8a0f2c" stroke-width="0.9"/>
<circle cx="351.43" cy="172.71" r="1.3" fill="#8a0f2c"/>
<line x1="365.96" y1="164.38" x2="365.96" y2="172.71" stroke="#8a0f2c" stroke-width="0.75"/>
<line x1="364.76" y1="164.38" x2="367.16" y2="164.38" stroke="#8a0f2c" stroke-width="0.9"/>
<line x1="364.76" y1="172.71" x2="367.16" y2="172.71" stroke="#8a0f2c" stroke-width="0.9"/>
<circle cx="365.96" cy="168.55" r="1.3" fill="#8a0f2c"/>
<line x1="380.49" y1="166.46" x2="380.49" y2="172.71" stroke="#8a0f2c" stroke-width="0.75"/>
<line x1="379.29" y1="166.46" x2="381.69" y2="166.46" stroke="#8a0f2c" stroke-width="0.9"/>
<line x1="379.29" y1="172.71" x2="381.69" y2="172.71" stroke="#8a0f2c" stroke-width="0.9"/>
<circle cx="380.49" cy="169.59" r="1.3" fill="#8a0f2c"/>
<text x="0.00" y="0.00" font-size="7.9" text-anchor="middle" font-weight="bold" fill="#222" transform="translate(276.50,179.60) rotate(-90) scale(0.735,1)">% CD45.2+</text>
<text x="0.00" y="0.00" font-size="7.4" text-anchor="middle" font-weight="bold" fill="#222" transform="translate(337.00,229.50) scale(0.715,1)">Weeks post-transplant</text>
<text x="344.40" y="190.70" font-size="6.6" font-style="italic" fill="#62b565" stroke="#62b565" stroke-width="0.1">Etv6<tspan font-size="3.63" dy="-2.77">+/+</tspan></text>
<text x="344.40" y="197.80" font-size="6.6" font-style="italic" fill="#cf3f5e" stroke="#cf3f5e" stroke-width="0.1">Etv6<tspan font-size="3.30" dy="-2.77">R355X/+</tspan></text>
<text x="0.00" y="0.00" font-size="9.592000000000002" text-anchor="middle" fill="#222" transform="translate(286.00,492.30) scale(0.917,1)" stroke="#222" stroke-width="0.1">Secondary Transplant</text>
<line x1="242.40" y1="498.40" x2="242.40" y2="559.90" stroke="#231f20" stroke-width="1.1"/>
<line x1="239.40" y1="559.40" x2="242.40" y2="559.40" stroke="#231f20" stroke-width="0.9"/>
<text x="236.00" y="561.53" font-size="6.1" text-anchor="end" fill="#333" stroke="#333" stroke-width="0.1">0</text>
<line x1="239.40" y1="539.87" x2="242.40" y2="539.87" stroke="#231f20" stroke-width="0.9"/>
<text x="236.00" y="542.00" font-size="6.1" text-anchor="end" fill="#333" stroke="#333" stroke-width="0.1">20</text>
<line x1="239.40" y1="520.33" x2="242.40" y2="520.33" stroke="#231f20" stroke-width="0.9"/>
<text x="236.00" y="522.47" font-size="6.1" text-anchor="end" fill="#333" stroke="#333" stroke-width="0.1">40</text>
<line x1="239.40" y1="500.80" x2="242.40" y2="500.80" stroke="#231f20" stroke-width="0.9"/>
<text x="236.00" y="502.94" font-size="6.1" text-anchor="end" fill="#333" stroke="#333" stroke-width="0.1">60</text>
<line x1="241.90" y1="559.40" x2="331.00" y2="559.40" stroke="#231f20" stroke-width="1.1"/>
<text x="242.40" y="570.80" font-size="6.1" text-anchor="middle" fill="#333" stroke="#333" stroke-width="0.1">0</text>
<line x1="260.52" y1="559.40" x2="260.52" y2="562.00" stroke="#231f20" stroke-width="0.9"/>
<text x="260.52" y="570.80" font-size="6.1" text-anchor="middle" fill="#333" stroke="#333" stroke-width="0.1">5</text>
<line x1="278.65" y1="559.40" x2="278.65" y2="562.00" stroke="#231f20" stroke-width="0.9"/>
<text x="278.65" y="570.80" font-size="6.1" text-anchor="middle" fill="#333" stroke="#333" stroke-width="0.1">10</text>
<line x1="296.77" y1="559.40" x2="296.77" y2="562.00" stroke="#231f20" stroke-width="0.9"/>
<text x="296.77" y="570.80" font-size="6.1" text-anchor="middle" fill="#333" stroke="#333" stroke-width="0.1">15</text>
<line x1="314.90" y1="559.40" x2="314.90" y2="562.00" stroke="#231f20" stroke-width="0.9"/>
<text x="314.90" y="570.80" font-size="6.1" text-anchor="middle" fill="#333" stroke="#333" stroke-width="0.1">20</text>
<polyline points="256.90,541.53 285.90,536.35 300.40,537.91 314.90,543.97 329.40,542.11" fill="none" stroke="#4fb552" stroke-width="1.1"/>
<line x1="256.90" y1="531.96" x2="256.90" y2="552.27" stroke="#2e7d36" stroke-width="0.75"/>
<line x1="255.70" y1="531.96" x2="258.10" y2="531.96" stroke="#2e7d36" stroke-width="0.9"/>
<line x1="255.70" y1="552.27" x2="258.10" y2="552.27" stroke="#2e7d36" stroke-width="0.9"/>
<circle cx="256.90" cy="541.53" r="1.3" fill="#2e7d36"/>
<line x1="285.90" y1="518.97" x2="285.90" y2="559.40" stroke="#2e7d36" stroke-width="0.75"/>
<line x1="284.70" y1="518.97" x2="287.10" y2="518.97" stroke="#2e7d36" stroke-width="0.9"/>
<circle cx="285.90" cy="536.35" r="1.3" fill="#2e7d36"/>
<line x1="300.40" y1="516.43" x2="300.40" y2="559.40" stroke="#2e7d36" stroke-width="0.75"/>
<line x1="299.20" y1="516.43" x2="301.60" y2="516.43" stroke="#2e7d36" stroke-width="0.9"/>
<circle cx="300.40" cy="537.91" r="1.3" fill="#2e7d36"/>
<line x1="314.90" y1="535.96" x2="314.90" y2="550.81" stroke="#2e7d36" stroke-width="0.75"/>
<line x1="313.70" y1="535.96" x2="316.10" y2="535.96" stroke="#2e7d36" stroke-width="0.9"/>
<line x1="313.70" y1="550.81" x2="316.10" y2="550.81" stroke="#2e7d36" stroke-width="0.9"/>
<circle cx="314.90" cy="543.97" r="1.3" fill="#2e7d36"/>
<line x1="329.40" y1="533.23" x2="329.40" y2="550.81" stroke="#2e7d36" stroke-width="0.75"/>
<line x1="328.20" y1="533.23" x2="330.60" y2="533.23" stroke="#2e7d36" stroke-width="0.9"/>
<line x1="328.20" y1="550.81" x2="330.60" y2="550.81" stroke="#2e7d36" stroke-width="0.9"/>
<circle cx="329.40" cy="542.11" r="1.3" fill="#2e7d36"/>
<polyline points="256.90,556.47 285.90,552.66 300.40,551.68 314.90,554.61 329.40,555.00" fill="none" stroke="#c41a3c" stroke-width="1.1"/>
<line x1="256.90" y1="553.74" x2="256.90" y2="558.91" stroke="#8a0f2c" stroke-width="0.75"/>
<line x1="255.70" y1="553.74" x2="258.10" y2="553.74" stroke="#8a0f2c" stroke-width="0.9"/>
<line x1="255.70" y1="558.91" x2="258.10" y2="558.91" stroke="#8a0f2c" stroke-width="0.9"/>
<circle cx="256.90" cy="556.47" r="1.3" fill="#8a0f2c"/>
<line x1="285.90" y1="542.11" x2="285.90" y2="559.40" stroke="#8a0f2c" stroke-width="0.75"/>
<line x1="284.70" y1="542.11" x2="287.10" y2="542.11" stroke="#8a0f2c" stroke-width="0.9"/>
<circle cx="285.90" cy="552.66" r="1.3" fill="#8a0f2c"/>
<line x1="300.40" y1="549.63" x2="300.40" y2="559.40" stroke="#8a0f2c" stroke-width="0.75"/>
<line x1="299.20" y1="549.63" x2="301.60" y2="549.63" stroke="#8a0f2c" stroke-width="0.9"/>
<circle cx="300.40" cy="551.68" r="1.3" fill="#8a0f2c"/>
<line x1="314.90" y1="552.56" x2="314.90" y2="556.96" stroke="#8a0f2c" stroke-width="0.75"/>
<line x1="313.70" y1="552.56" x2="316.10" y2="552.56" stroke="#8a0f2c" stroke-width="0.9"/>
<line x1="313.70" y1="556.96" x2="316.10" y2="556.96" stroke="#8a0f2c" stroke-width="0.9"/>
<circle cx="314.90" cy="554.61" r="1.3" fill="#8a0f2c"/>
<line x1="329.40" y1="546.70" x2="329.40" y2="557.45" stroke="#8a0f2c" stroke-width="0.75"/>
<line x1="328.20" y1="546.70" x2="330.60" y2="546.70" stroke="#8a0f2c" stroke-width="0.9"/>
<line x1="328.20" y1="557.45" x2="330.60" y2="557.45" stroke="#8a0f2c" stroke-width="0.9"/>
<circle cx="329.40" cy="555.00" r="1.3" fill="#8a0f2c"/>
<text x="256.90" y="532.20" font-size="6.6" text-anchor="middle" fill="#1a1a1a" letter-spacing="-0.2" stroke="#1a1a1a" stroke-width="0.1">**</text>
<text x="285.90" y="518.80" font-size="6.6" text-anchor="middle" fill="#1a1a1a" letter-spacing="-0.2" stroke="#1a1a1a" stroke-width="0.1">*</text>
<text x="0.00" y="0.00" font-size="7.9" text-anchor="middle" font-weight="bold" fill="#222" transform="translate(222.60,529.10) rotate(-90) scale(0.735,1)">% CD45.2+</text>
<text x="0.00" y="0.00" font-size="7.4" text-anchor="middle" font-weight="bold" fill="#222" transform="translate(286.70,581.80) scale(0.715,1)">Weeks post-transplant</text>
<text x="0.00" y="0.00" font-size="8.829" text-anchor="middle" fill="#222" transform="translate(74.00,267.00) scale(0.917,1)" stroke="#222" stroke-width="0.1">Bone Marrow</text>
<rect x="47.00" y="288.99" width="21.00" height="38.71" fill="#b0d497"/>
<rect x="80.10" y="299.03" width="20.90" height="28.67" fill="#ea8e80"/>
<line x1="34.40" y1="272.20" x2="34.40" y2="328.20" stroke="#231f20" stroke-width="1.1"/>
<line x1="31.40" y1="327.70" x2="34.40" y2="327.70" stroke="#231f20" stroke-width="0.9"/>
<text x="28.00" y="329.83" font-size="6.1" text-anchor="end" fill="#333" stroke="#333" stroke-width="0.1">0</text>
<line x1="31.40" y1="317.08" x2="34.40" y2="317.08" stroke="#231f20" stroke-width="0.9"/>
<text x="28.00" y="319.21" font-size="6.1" text-anchor="end" fill="#333" stroke="#333" stroke-width="0.1">20</text>
<line x1="31.40" y1="306.46" x2="34.40" y2="306.46" stroke="#231f20" stroke-width="0.9"/>
<text x="28.00" y="308.59" font-size="6.1" text-anchor="end" fill="#333" stroke="#333" stroke-width="0.1">40</text>
<line x1="31.40" y1="295.84" x2="34.40" y2="295.84" stroke="#231f20" stroke-width="0.9"/>
<text x="28.00" y="297.98" font-size="6.1" text-anchor="end" fill="#333" stroke="#333" stroke-width="0.1">60</text>
<line x1="31.40" y1="285.22" x2="34.40" y2="285.22" stroke="#231f20" stroke-width="0.9"/>
<text x="28.00" y="287.36" font-size="6.1" text-anchor="end" fill="#333" stroke="#333" stroke-width="0.1">80</text>
<line x1="31.40" y1="274.60" x2="34.40" y2="274.60" stroke="#231f20" stroke-width="0.9"/>
<text x="28.00" y="276.74" font-size="6.1" text-anchor="end" fill="#333" stroke="#333" stroke-width="0.1">100</text>
<line x1="33.90" y1="327.70" x2="113.00" y2="327.70" stroke="#231f20" stroke-width="1.1"/>
<line x1="57.50" y1="327.70" x2="57.50" y2="330.30" stroke="#231f20" stroke-width="0.9"/>
<line x1="57.50" y1="286.02" x2="57.50" y2="290.00" stroke="#2f8f3c" stroke-width="1.0"/>
<line x1="52.30" y1="286.02" x2="62.70" y2="286.02" stroke="#2f8f3c" stroke-width="1.0"/>
<line x1="52.30" y1="290.00" x2="62.70" y2="290.00" stroke="#2f8f3c" stroke-width="1.0"/>
<circle cx="54.50" cy="288.94" r="1.35" fill="#2f8f3c"/>
<circle cx="60.50" cy="288.94" r="1.35" fill="#2f8f3c"/>
<circle cx="57.50" cy="286.81" r="1.35" fill="#2f8f3c"/>
<line x1="90.55" y1="327.70" x2="90.55" y2="330.30" stroke="#231f20" stroke-width="0.9"/>
<line x1="90.55" y1="292.49" x2="90.55" y2="304.02" stroke="#c0142f" stroke-width="1.0"/>
<line x1="85.35" y1="292.49" x2="95.75" y2="292.49" stroke="#c0142f" stroke-width="1.0"/>
<line x1="85.35" y1="304.02" x2="95.75" y2="304.02" stroke="#c0142f" stroke-width="1.0"/>
<circle cx="90.75" cy="291.59" r="1.35" fill="#c0142f"/>
<circle cx="88.05" cy="302.74" r="1.35" fill="#c0142f"/>
<circle cx="93.55" cy="300.25" r="1.35" fill="#c0142f"/>
<line x1="57.60" y1="278.10" x2="90.75" y2="278.10" stroke="#231f20" stroke-width="0.9"/>
<text x="74.17" y="277.70" font-size="6.0" text-anchor="middle" fill="#222" stroke="#222" stroke-width="0.1">*</text>
<text x="0.00" y="0.00" font-size="7.9" text-anchor="middle" font-weight="bold" fill="#222" transform="translate(13.60,300.20) rotate(-90) scale(0.735,1)">% CD45.2+</text>
<text x="57.70" y="338.90" font-size="6.7" text-anchor="middle" font-style="italic" fill="#333" stroke="#333" stroke-width="0.1">Etv6<tspan font-size="3.48" dy="-2.81">+/+</tspan></text>
<text x="89.20" y="338.90" font-size="6.7" text-anchor="middle" font-style="italic" fill="#333" stroke="#333" stroke-width="0.1">Etv6<tspan font-size="3.48" dy="-2.81">R355X/+</tspan></text>
<text x="0.00" y="0.00" font-size="8.829" text-anchor="middle" fill="#222" transform="translate(203.40,267.00) scale(0.917,1)" stroke="#222" stroke-width="0.1">Spleen</text>
<rect x="176.00" y="287.88" width="21.10" height="39.82" fill="#b0d497"/>
<rect x="209.20" y="300.02" width="21.30" height="27.68" fill="#ea8e80"/>
<line x1="163.80" y1="272.20" x2="163.80" y2="328.20" stroke="#231f20" stroke-width="1.1"/>
<line x1="160.80" y1="327.70" x2="163.80" y2="327.70" stroke="#231f20" stroke-width="0.9"/>
<text x="157.40" y="329.83" font-size="6.1" text-anchor="end" fill="#333" stroke="#333" stroke-width="0.1">0</text>
<line x1="160.80" y1="314.43" x2="163.80" y2="314.43" stroke="#231f20" stroke-width="0.9"/>
<text x="157.40" y="316.56" font-size="6.1" text-anchor="end" fill="#333" stroke="#333" stroke-width="0.1">20</text>
<line x1="160.80" y1="301.15" x2="163.80" y2="301.15" stroke="#231f20" stroke-width="0.9"/>
<text x="157.40" y="303.28" font-size="6.1" text-anchor="end" fill="#333" stroke="#333" stroke-width="0.1">40</text>
<line x1="160.80" y1="287.88" x2="163.80" y2="287.88" stroke="#231f20" stroke-width="0.9"/>
<text x="157.40" y="290.01" font-size="6.1" text-anchor="end" fill="#333" stroke="#333" stroke-width="0.1">60</text>
<line x1="160.80" y1="274.60" x2="163.80" y2="274.60" stroke="#231f20" stroke-width="0.9"/>
<text x="157.40" y="276.74" font-size="6.1" text-anchor="end" fill="#333" stroke="#333" stroke-width="0.1">80</text>
<line x1="163.30" y1="327.70" x2="241.50" y2="327.70" stroke="#231f20" stroke-width="1.1"/>
<line x1="186.55" y1="327.70" x2="186.55" y2="330.30" stroke="#231f20" stroke-width="0.9"/>
<line x1="186.55" y1="280.57" x2="186.55" y2="293.19" stroke="#2f8f3c" stroke-width="1.0"/>
<line x1="181.05" y1="280.57" x2="192.05" y2="280.57" stroke="#2f8f3c" stroke-width="1.0"/>
<line x1="181.05" y1="293.19" x2="192.05" y2="293.19" stroke="#2f8f3c" stroke-width="1.0"/>
<circle cx="186.55" cy="280.57" r="1.35" fill="#2f8f3c"/>
<circle cx="183.55" cy="284.89" r="1.35" fill="#2f8f3c"/>
<circle cx="189.95" cy="285.55" r="1.35" fill="#2f8f3c"/>
<circle cx="186.55" cy="295.51" r="1.35" fill="#2f8f3c"/>
<line x1="219.85" y1="327.70" x2="219.85" y2="330.30" stroke="#231f20" stroke-width="0.9"/>
<line x1="219.85" y1="291.33" x2="219.85" y2="307.52" stroke="#c0142f" stroke-width="1.0"/>
<line x1="214.35" y1="291.33" x2="225.35" y2="291.33" stroke="#c0142f" stroke-width="1.0"/>
<line x1="214.35" y1="307.52" x2="225.35" y2="307.52" stroke="#c0142f" stroke-width="1.0"/>
<circle cx="219.85" cy="291.33" r="1.35" fill="#c0142f"/>
<circle cx="219.85" cy="298.16" r="1.35" fill="#c0142f"/>
<circle cx="219.85" cy="308.19" r="1.35" fill="#c0142f"/>
<text x="0.00" y="0.00" font-size="7.9" text-anchor="middle" font-weight="bold" fill="#222" transform="translate(146.30,300.20) rotate(-90) scale(0.735,1)">% CD45.2+</text>
<text x="186.50" y="338.90" font-size="6.7" text-anchor="middle" font-style="italic" fill="#333" stroke="#333" stroke-width="0.1">Etv6<tspan font-size="3.48" dy="-2.81">+/+</tspan></text>
<text x="218.50" y="338.90" font-size="6.7" text-anchor="middle" font-style="italic" fill="#333" stroke="#333" stroke-width="0.1">Etv6<tspan font-size="3.48" dy="-2.81">R355X/+</tspan></text>
<text x="0.00" y="0.00" font-size="8.829" text-anchor="middle" fill="#222" transform="translate(332.50,267.00) scale(0.917,1)" stroke="#222" stroke-width="0.1">Blood</text>
<rect x="305.00" y="292.36" width="21.20" height="35.44" fill="#b0d497"/>
<rect x="338.10" y="304.99" width="20.65" height="22.81" fill="#ea8e80"/>
<line x1="293.70" y1="272.10" x2="293.70" y2="328.30" stroke="#231f20" stroke-width="1.1"/>
<line x1="290.70" y1="327.80" x2="293.70" y2="327.80" stroke="#231f20" stroke-width="0.9"/>
<text x="287.30" y="329.94" font-size="6.1" text-anchor="end" fill="#333" stroke="#333" stroke-width="0.1">0</text>
<line x1="290.70" y1="317.14" x2="293.70" y2="317.14" stroke="#231f20" stroke-width="0.9"/>
<text x="287.30" y="319.27" font-size="6.1" text-anchor="end" fill="#333" stroke="#333" stroke-width="0.1">20</text>
<line x1="290.70" y1="306.48" x2="293.70" y2="306.48" stroke="#231f20" stroke-width="0.9"/>
<text x="287.30" y="308.62" font-size="6.1" text-anchor="end" fill="#333" stroke="#333" stroke-width="0.1">40</text>
<line x1="290.70" y1="295.82" x2="293.70" y2="295.82" stroke="#231f20" stroke-width="0.9"/>
<text x="287.30" y="297.95" font-size="6.1" text-anchor="end" fill="#333" stroke="#333" stroke-width="0.1">60</text>
<line x1="290.70" y1="285.16" x2="293.70" y2="285.16" stroke="#231f20" stroke-width="0.9"/>
<text x="287.30" y="287.29" font-size="6.1" text-anchor="end" fill="#333" stroke="#333" stroke-width="0.1">80</text>
<line x1="290.70" y1="274.50" x2="293.70" y2="274.50" stroke="#231f20" stroke-width="0.9"/>
<text x="287.30" y="276.63" font-size="6.1" text-anchor="end" fill="#333" stroke="#333" stroke-width="0.1">100</text>
<line x1="293.20" y1="327.80" x2="371.00" y2="327.80" stroke="#231f20" stroke-width="1.1"/>
<line x1="315.60" y1="327.80" x2="315.60" y2="330.40" stroke="#231f20" stroke-width="0.9"/>
<line x1="315.60" y1="287.29" x2="315.60" y2="297.42" stroke="#2f8f3c" stroke-width="1.0"/>
<line x1="310.50" y1="287.29" x2="320.70" y2="287.29" stroke="#2f8f3c" stroke-width="1.0"/>
<line x1="310.50" y1="297.42" x2="320.70" y2="297.42" stroke="#2f8f3c" stroke-width="1.0"/>
<circle cx="312.50" cy="287.29" r="1.35" fill="#2f8f3c"/>
<circle cx="318.70" cy="287.29" r="1.35" fill="#2f8f3c"/>
<circle cx="318.70" cy="294.49" r="1.35" fill="#2f8f3c"/>
<circle cx="312.50" cy="297.42" r="1.35" fill="#2f8f3c"/>
<line x1="348.43" y1="327.80" x2="348.43" y2="330.40" stroke="#231f20" stroke-width="0.9"/>
<line x1="348.43" y1="299.28" x2="348.43" y2="308.93" stroke="#c0142f" stroke-width="1.0"/>
<line x1="343.32" y1="299.28" x2="353.53" y2="299.28" stroke="#c0142f" stroke-width="1.0"/>
<line x1="343.32" y1="308.93" x2="353.53" y2="308.93" stroke="#c0142f" stroke-width="1.0"/>
<circle cx="348.43" cy="299.28" r="1.35" fill="#c0142f"/>
<circle cx="348.43" cy="303.81" r="1.35" fill="#c0142f"/>
<circle cx="348.43" cy="308.93" r="1.35" fill="#c0142f"/>
<text x="0.00" y="0.00" font-size="7.9" text-anchor="middle" font-weight="bold" fill="#222" transform="translate(271.70,300.00) rotate(-90) scale(0.735,1)">% CD45.2+</text>
<text x="315.50" y="338.90" font-size="6.7" text-anchor="middle" font-style="italic" fill="#333" stroke="#333" stroke-width="0.1">Etv6<tspan font-size="3.48" dy="-2.81">+/+</tspan></text>
<text x="347.00" y="338.90" font-size="6.7" text-anchor="middle" font-style="italic" fill="#333" stroke="#333" stroke-width="0.1">Etv6<tspan font-size="3.48" dy="-2.81">R355X/+</tspan></text>
<text x="0.00" y="0.00" font-size="8.829" text-anchor="middle" fill="#222" transform="translate(464.50,267.50) scale(0.917,1)" stroke="#222" stroke-width="0.1">LSK Cells</text>
<rect x="436.90" y="287.23" width="21.20" height="40.77" fill="#b0d497"/>
<rect x="470.60" y="297.50" width="20.65" height="30.50" fill="#ea8e80"/>
<line x1="425.75" y1="272.10" x2="425.75" y2="328.50" stroke="#231f20" stroke-width="1.1"/>
<line x1="422.75" y1="328.00" x2="425.75" y2="328.00" stroke="#231f20" stroke-width="0.9"/>
<text x="419.35" y="330.13" font-size="6.1" text-anchor="end" fill="#333" stroke="#333" stroke-width="0.1">0</text>
<line x1="422.75" y1="317.30" x2="425.75" y2="317.30" stroke="#231f20" stroke-width="0.9"/>
<text x="419.35" y="319.44" font-size="6.1" text-anchor="end" fill="#333" stroke="#333" stroke-width="0.1">20</text>
<line x1="422.75" y1="306.60" x2="425.75" y2="306.60" stroke="#231f20" stroke-width="0.9"/>
<text x="419.35" y="308.74" font-size="6.1" text-anchor="end" fill="#333" stroke="#333" stroke-width="0.1">40</text>
<line x1="422.75" y1="295.90" x2="425.75" y2="295.90" stroke="#231f20" stroke-width="0.9"/>
<text x="419.35" y="298.03" font-size="6.1" text-anchor="end" fill="#333" stroke="#333" stroke-width="0.1">60</text>
<line x1="422.75" y1="285.20" x2="425.75" y2="285.20" stroke="#231f20" stroke-width="0.9"/>
<text x="419.35" y="287.33" font-size="6.1" text-anchor="end" fill="#333" stroke="#333" stroke-width="0.1">80</text>
<line x1="422.75" y1="274.50" x2="425.75" y2="274.50" stroke="#231f20" stroke-width="0.9"/>
<text x="419.35" y="276.63" font-size="6.1" text-anchor="end" fill="#333" stroke="#333" stroke-width="0.1">100</text>
<line x1="425.25" y1="328.00" x2="503.30" y2="328.00" stroke="#231f20" stroke-width="1.1"/>
<line x1="447.50" y1="328.00" x2="447.50" y2="330.60" stroke="#231f20" stroke-width="0.9"/>
<line x1="447.50" y1="285.47" x2="447.50" y2="287.07" stroke="#2f8f3c" stroke-width="1.0"/>
<line x1="442.40" y1="285.47" x2="452.60" y2="285.47" stroke="#2f8f3c" stroke-width="1.0"/>
<line x1="442.40" y1="287.07" x2="452.60" y2="287.07" stroke="#2f8f3c" stroke-width="1.0"/>
<circle cx="438.10" cy="287.88" r="1.35" fill="#2f8f3c"/>
<circle cx="457.75" cy="286.54" r="1.35" fill="#2f8f3c"/>
<circle cx="444.40" cy="285.47" r="1.35" fill="#2f8f3c"/>
<circle cx="450.60" cy="286.27" r="1.35" fill="#2f8f3c"/>
<line x1="480.93" y1="328.00" x2="480.93" y2="330.60" stroke="#231f20" stroke-width="0.9"/>
<line x1="480.93" y1="291.08" x2="480.93" y2="301.25" stroke="#c0142f" stroke-width="1.0"/>
<line x1="475.82" y1="291.08" x2="486.03" y2="291.08" stroke="#c0142f" stroke-width="1.0"/>
<line x1="475.82" y1="301.25" x2="486.03" y2="301.25" stroke="#c0142f" stroke-width="1.0"/>
<circle cx="480.62" cy="291.08" r="1.35" fill="#c0142f"/>
<circle cx="483.73" cy="298.57" r="1.35" fill="#c0142f"/>
<circle cx="477.53" cy="300.71" r="1.35" fill="#c0142f"/>
<line x1="448.10" y1="277.25" x2="481.25" y2="277.25" stroke="#231f20" stroke-width="0.9"/>
<text x="464.68" y="276.85" font-size="6.0" text-anchor="middle" fill="#222" stroke="#222" stroke-width="0.1">*</text>
<text x="0.00" y="0.00" font-size="7.9" text-anchor="middle" font-weight="bold" fill="#222" transform="translate(404.10,300.00) rotate(-90) scale(0.735,1)">% CD45.2+</text>
<text x="447.50" y="338.90" font-size="6.7" text-anchor="middle" font-style="italic" fill="#333" stroke="#333" stroke-width="0.1">Etv6<tspan font-size="3.48" dy="-2.81">+/+</tspan></text>
<text x="479.50" y="338.90" font-size="6.7" text-anchor="middle" font-style="italic" fill="#333" stroke="#333" stroke-width="0.1">Etv6<tspan font-size="3.48" dy="-2.81">R355X/+</tspan></text>
<text x="0.00" y="0.00" font-size="8.5565" text-anchor="middle" fill="#222" transform="translate(397.20,491.80) scale(0.917,1)" stroke="#222" stroke-width="0.1">Tertiary Transplant</text>
<rect x="379.10" y="534.20" width="13.90" height="24.70" fill="#b0d497"/>
<rect x="402.00" y="555.37" width="12.50" height="3.53" fill="#ea8e80"/>
<line x1="370.20" y1="497.70" x2="370.20" y2="559.40" stroke="#231f20" stroke-width="1.1"/>
<line x1="367.20" y1="558.90" x2="370.20" y2="558.90" stroke="#231f20" stroke-width="0.9"/>
<text x="363.80" y="561.03" font-size="6.1" text-anchor="end" fill="#333" stroke="#333" stroke-width="0.1">0</text>
<line x1="367.20" y1="547.14" x2="370.20" y2="547.14" stroke="#231f20" stroke-width="0.9"/>
<text x="363.80" y="549.27" font-size="6.1" text-anchor="end" fill="#333" stroke="#333" stroke-width="0.1">2</text>
<line x1="367.20" y1="535.38" x2="370.20" y2="535.38" stroke="#231f20" stroke-width="0.9"/>
<text x="363.80" y="537.51" font-size="6.1" text-anchor="end" fill="#333" stroke="#333" stroke-width="0.1">4</text>
<line x1="367.20" y1="523.62" x2="370.20" y2="523.62" stroke="#231f20" stroke-width="0.9"/>
<text x="363.80" y="525.75" font-size="6.1" text-anchor="end" fill="#333" stroke="#333" stroke-width="0.1">6</text>
<line x1="367.20" y1="511.86" x2="370.20" y2="511.86" stroke="#231f20" stroke-width="0.9"/>
<text x="363.80" y="514.00" font-size="6.1" text-anchor="end" fill="#333" stroke="#333" stroke-width="0.1">8</text>
<line x1="367.20" y1="500.10" x2="370.20" y2="500.10" stroke="#231f20" stroke-width="0.9"/>
<text x="363.80" y="502.24" font-size="6.1" text-anchor="end" fill="#333" stroke="#333" stroke-width="0.1">10</text>
<line x1="369.70" y1="558.90" x2="423.10" y2="558.90" stroke="#231f20" stroke-width="1.1"/>
<line x1="386.05" y1="558.90" x2="386.05" y2="561.50" stroke="#231f20" stroke-width="0.9"/>
<line x1="386.05" y1="510.68" x2="386.05" y2="554.78" stroke="#2f8f3c" stroke-width="1.0"/>
<line x1="382.55" y1="510.68" x2="389.55" y2="510.68" stroke="#2f8f3c" stroke-width="1.0"/>
<line x1="382.55" y1="554.78" x2="389.55" y2="554.78" stroke="#2f8f3c" stroke-width="1.0"/>
<circle cx="383.05" cy="508.92" r="1.35" fill="#2f8f3c"/>
<circle cx="389.05" cy="508.92" r="1.35" fill="#2f8f3c"/>
<circle cx="386.05" cy="524.80" r="1.35" fill="#2f8f3c"/>
<circle cx="386.05" cy="547.14" r="1.35" fill="#2f8f3c"/>
<circle cx="386.05" cy="551.84" r="1.35" fill="#2f8f3c"/>
<circle cx="386.05" cy="555.96" r="1.35" fill="#2f8f3c"/>
<line x1="408.25" y1="558.90" x2="408.25" y2="561.50" stroke="#231f20" stroke-width="0.9"/>
<line x1="408.25" y1="551.26" x2="408.25" y2="558.31" stroke="#c0142f" stroke-width="1.0"/>
<line x1="404.75" y1="551.26" x2="411.75" y2="551.26" stroke="#c0142f" stroke-width="1.0"/>
<line x1="404.75" y1="558.31" x2="411.75" y2="558.31" stroke="#c0142f" stroke-width="1.0"/>
<circle cx="408.25" cy="548.32" r="1.35" fill="#c0142f"/>
<circle cx="403.75" cy="554.78" r="1.35" fill="#c0142f"/>
<circle cx="412.25" cy="554.78" r="1.35" fill="#c0142f"/>
<circle cx="406.25" cy="557.14" r="1.35" fill="#c0142f"/>
<circle cx="410.25" cy="557.14" r="1.35" fill="#c0142f"/>
<line x1="386.60" y1="502.90" x2="408.00" y2="502.90" stroke="#231f20" stroke-width="0.9"/>
<text x="397.30" y="502.50" font-size="6.0" text-anchor="middle" fill="#222" stroke="#222" stroke-width="0.1">*</text>
<text x="0.00" y="0.00" font-size="7.9" text-anchor="middle" font-weight="bold" fill="#222" transform="translate(352.50,528.70) rotate(-90) scale(0.735,1)">% CD45.2+</text>
<text x="384.50" y="570.40" font-size="6.6" text-anchor="middle" font-style="italic" fill="#333" stroke="#333" stroke-width="0.1">Etv6<tspan font-size="3.43" dy="-2.77">+/+</tspan></text>
<text x="409.50" y="570.40" font-size="6.6" text-anchor="middle" font-style="italic" fill="#333" stroke="#333" stroke-width="0.1">Etv6<tspan font-size="3.43" dy="-2.77">R355X/+</tspan></text>
<text x="453.40" y="145.80" font-size="8.0" text-anchor="middle" fill="#222" stroke="#222" stroke-width="0.1">Lineage Recovery</text>
<rect x="434.20" y="183.77" width="14.50" height="23.13" fill="#e2187d"/>
<rect x="434.20" y="180.81" width="14.50" height="2.96" fill="#4a195c"/>
<rect x="434.20" y="178.92" width="14.50" height="1.88" fill="#f7a21e"/>
<rect x="434.20" y="163.05" width="14.50" height="15.87" fill="#2ea6dd"/>
<line x1="441.45" y1="157.62" x2="441.45" y2="163.05" stroke="#231f20" stroke-width="1.0"/>
<line x1="437.85" y1="157.62" x2="445.05" y2="157.62" stroke="#231f20" stroke-width="1.0"/>
<line x1="438.45" y1="178.28" x2="444.45" y2="178.28" stroke="#111" stroke-width="0.9"/>
<rect x="458.00" y="184.84" width="14.30" height="22.06" fill="#e2187d"/>
<rect x="458.00" y="181.34" width="14.30" height="3.50" fill="#4a195c"/>
<rect x="458.00" y="177.85" width="14.30" height="3.50" fill="#f7a21e"/>
<rect x="458.00" y="160.20" width="14.30" height="17.65" fill="#2ea6dd"/>
<line x1="465.15" y1="157.62" x2="465.15" y2="160.20" stroke="#231f20" stroke-width="1.0"/>
<line x1="461.55" y1="157.62" x2="468.75" y2="157.62" stroke="#231f20" stroke-width="1.0"/>
<line x1="462.15" y1="177.20" x2="468.15" y2="177.20" stroke="#111" stroke-width="0.9"/>
<line x1="425.80" y1="150.70" x2="425.80" y2="207.40" stroke="#231f20" stroke-width="1.1"/>
<line x1="422.80" y1="206.90" x2="425.80" y2="206.90" stroke="#231f20" stroke-width="0.9"/>
<text x="419.40" y="209.03" font-size="6.1" text-anchor="end" fill="#333" stroke="#333" stroke-width="0.1">0</text>
<line x1="422.80" y1="180.00" x2="425.80" y2="180.00" stroke="#231f20" stroke-width="0.9"/>
<text x="419.40" y="182.13" font-size="6.1" text-anchor="end" fill="#333" stroke="#333" stroke-width="0.1">50</text>
<line x1="422.80" y1="153.10" x2="425.80" y2="153.10" stroke="#231f20" stroke-width="0.9"/>
<text x="419.40" y="155.23" font-size="6.1" text-anchor="end" fill="#333" stroke="#333" stroke-width="0.1">100</text>
<line x1="425.30" y1="206.90" x2="480.20" y2="206.90" stroke="#231f20" stroke-width="1.1"/>
<line x1="441.40" y1="206.90" x2="441.40" y2="209.50" stroke="#231f20" stroke-width="0.9"/>
<line x1="465.10" y1="206.90" x2="465.10" y2="209.50" stroke="#231f20" stroke-width="0.9"/>
<text x="0.00" y="0.00" font-size="7.9" text-anchor="middle" font-weight="bold" fill="#222" transform="translate(403.80,179.60) rotate(-90) scale(0.735,1)">% of CD45.2+</text>
<text x="443.40" y="218.80" font-size="6.9" text-anchor="middle" fill="#333" stroke="#333" stroke-width="0.1">Etv6<tspan font-size="3.59" dy="-2.90">+/+</tspan></text>
<text x="467.50" y="218.80" font-size="6.9" text-anchor="middle" fill="#333" stroke="#333" stroke-width="0.1">Etv6<tspan font-size="3.59" dy="-2.90">R355X/+</tspan></text>
<rect x="483.90" y="163.00" width="7.50" height="3.70" fill="#e2187d"/>
<text x="494.70" y="167.00" font-size="5.8" fill="#2a2a2a" stroke="#2a2a2a" stroke-width="0.1">B</text>
<rect x="483.90" y="172.30" width="7.50" height="3.70" fill="#4a195c"/>
<text x="494.70" y="176.30" font-size="5.8" fill="#2a2a2a" stroke="#2a2a2a" stroke-width="0.1">CD4 T</text>
<rect x="483.90" y="181.80" width="7.50" height="3.70" fill="#f7a21e"/>
<text x="494.70" y="185.80" font-size="5.8" fill="#2a2a2a" stroke="#2a2a2a" stroke-width="0.1">CD8 T</text>
<rect x="483.90" y="191.20" width="7.50" height="3.70" fill="#2ea6dd"/>
<text x="494.70" y="195.20" font-size="5.8" fill="#2a2a2a" stroke="#2a2a2a" stroke-width="0.1">Myeloid</text>
<text x="0.00" y="0.00" font-size="9.81" text-anchor="middle" fill="#222" transform="translate(270.80,376.50) scale(0.917,1)" stroke="#222" stroke-width="0.1">Bone Marrow</text>
<line x1="242.50" y1="382.20" x2="242.50" y2="441.90" stroke="#231f20" stroke-width="1.1"/>
<line x1="239.50" y1="441.40" x2="242.50" y2="441.40" stroke="#231f20" stroke-width="0.9"/>
<text x="236.10" y="443.53" font-size="6.1" text-anchor="end" fill="#333" stroke="#333" stroke-width="0.1">0.00</text>
<line x1="239.50" y1="430.04" x2="242.50" y2="430.04" stroke="#231f20" stroke-width="0.9"/>
<text x="236.10" y="432.17" font-size="6.1" text-anchor="end" fill="#333" stroke="#333" stroke-width="0.1">0.01</text>
<line x1="239.50" y1="418.68" x2="242.50" y2="418.68" stroke="#231f20" stroke-width="0.9"/>
<text x="236.10" y="420.81" font-size="6.1" text-anchor="end" fill="#333" stroke="#333" stroke-width="0.1">0.01</text>
<line x1="239.50" y1="407.32" x2="242.50" y2="407.32" stroke="#231f20" stroke-width="0.9"/>
<text x="236.10" y="409.45" font-size="6.1" text-anchor="end" fill="#333" stroke="#333" stroke-width="0.1">0.02</text>
<line x1="239.50" y1="395.96" x2="242.50" y2="395.96" stroke="#231f20" stroke-width="0.9"/>
<text x="236.10" y="398.10" font-size="6.1" text-anchor="end" fill="#333" stroke="#333" stroke-width="0.1">0.02</text>
<line x1="239.50" y1="384.60" x2="242.50" y2="384.60" stroke="#231f20" stroke-width="0.9"/>
<text x="236.10" y="386.74" font-size="6.1" text-anchor="end" fill="#333" stroke="#333" stroke-width="0.1">0.03</text>
<line x1="242.00" y1="441.40" x2="298.50" y2="441.40" stroke="#231f20" stroke-width="1.1"/>
<line x1="258.20" y1="441.40" x2="258.20" y2="444.00" stroke="#231f20" stroke-width="0.9"/>
<circle cx="258.20" cy="393.69" r="1.25" fill="#45b04f"/>
<circle cx="255.90" cy="424.17" r="1.25" fill="#45b04f"/>
<circle cx="260.50" cy="424.17" r="1.25" fill="#45b04f"/>
<circle cx="258.20" cy="419.25" r="1.25" fill="#45b04f"/>
<circle cx="255.90" cy="434.58" r="1.25" fill="#45b04f"/>
<circle cx="260.50" cy="434.58" r="1.25" fill="#45b04f"/>
<line x1="258.20" y1="404.67" x2="258.20" y2="434.96" stroke="#45b04f" stroke-width="0.9"/>
<line x1="254.20" y1="404.67" x2="262.20" y2="404.67" stroke="#45b04f" stroke-width="0.9"/>
<line x1="254.20" y1="434.96" x2="262.20" y2="434.96" stroke="#45b04f" stroke-width="0.9"/>
<line x1="250.20" y1="419.25" x2="266.20" y2="419.25" stroke="#231f20" stroke-width="0.9"/>
<line x1="282.80" y1="441.40" x2="282.80" y2="444.00" stroke="#231f20" stroke-width="0.9"/>
<circle cx="282.80" cy="411.86" r="1.25" fill="#d21f3c"/>
<circle cx="282.80" cy="420.57" r="1.25" fill="#d21f3c"/>
<circle cx="282.80" cy="423.41" r="1.25" fill="#d21f3c"/>
<circle cx="282.80" cy="426.25" r="1.25" fill="#d21f3c"/>
<circle cx="282.80" cy="428.90" r="1.25" fill="#d21f3c"/>
<circle cx="282.80" cy="431.93" r="1.25" fill="#d21f3c"/>
<line x1="282.80" y1="416.79" x2="282.80" y2="431.18" stroke="#d21f3c" stroke-width="0.9"/>
<line x1="278.80" y1="416.79" x2="286.80" y2="416.79" stroke="#d21f3c" stroke-width="0.9"/>
<line x1="278.80" y1="431.18" x2="286.80" y2="431.18" stroke="#d21f3c" stroke-width="0.9"/>
<line x1="274.80" y1="424.17" x2="290.80" y2="424.17" stroke="#231f20" stroke-width="0.9"/>
<text x="0.00" y="0.00" font-size="7.6" text-anchor="middle" font-weight="bold" fill="#222" transform="translate(217.90,411.60) rotate(-90) scale(0.735,1)">% CD45.2+ LSKs</text>
<text x="258.60" y="452.80" font-size="6.6" text-anchor="middle" font-style="italic" fill="#333" stroke="#333" stroke-width="0.1">Etv6<tspan font-size="3.43" dy="-2.77">+/+</tspan></text>
<text x="283.00" y="452.80" font-size="6.6" text-anchor="middle" font-style="italic" fill="#333" stroke="#333" stroke-width="0.1">Etv6<tspan font-size="3.43" dy="-2.77">R355X/+</tspan></text>
<text x="0.00" y="0.00" font-size="9.81" text-anchor="middle" fill="#222" transform="translate(375.40,376.20) scale(0.917,1)" stroke="#222" stroke-width="0.1">Bone Marrow</text>
<line x1="346.50" y1="381.90" x2="346.50" y2="442.10" stroke="#231f20" stroke-width="1.1"/>
<line x1="343.50" y1="441.60" x2="346.50" y2="441.60" stroke="#231f20" stroke-width="0.9"/>
<text x="340.10" y="443.74" font-size="6.1" text-anchor="end" fill="#333" stroke="#333" stroke-width="0.1">0</text>
<line x1="343.50" y1="427.28" x2="346.50" y2="427.28" stroke="#231f20" stroke-width="0.9"/>
<text x="340.10" y="429.41" font-size="6.1" text-anchor="end" fill="#333" stroke="#333" stroke-width="0.1">1000</text>
<line x1="343.50" y1="412.95" x2="346.50" y2="412.95" stroke="#231f20" stroke-width="0.9"/>
<text x="340.10" y="415.09" font-size="6.1" text-anchor="end" fill="#333" stroke="#333" stroke-width="0.1">2000</text>
<line x1="343.50" y1="398.62" x2="346.50" y2="398.62" stroke="#231f20" stroke-width="0.9"/>
<text x="340.10" y="400.76" font-size="6.1" text-anchor="end" fill="#333" stroke="#333" stroke-width="0.1">3000</text>
<line x1="343.50" y1="384.30" x2="346.50" y2="384.30" stroke="#231f20" stroke-width="0.9"/>
<text x="340.10" y="386.44" font-size="6.1" text-anchor="end" fill="#333" stroke="#333" stroke-width="0.1">4000</text>
<line x1="346.00" y1="441.60" x2="403.00" y2="441.60" stroke="#231f20" stroke-width="1.1"/>
<line x1="363.00" y1="441.60" x2="363.00" y2="444.20" stroke="#231f20" stroke-width="0.9"/>
<circle cx="363.00" cy="390.03" r="1.25" fill="#45b04f"/>
<circle cx="363.00" cy="398.20" r="1.25" fill="#45b04f"/>
<circle cx="363.00" cy="407.22" r="1.25" fill="#45b04f"/>
<circle cx="363.00" cy="414.38" r="1.25" fill="#45b04f"/>
<circle cx="363.00" cy="417.96" r="1.25" fill="#45b04f"/>
<circle cx="360.70" cy="428.99" r="1.25" fill="#45b04f"/>
<circle cx="365.30" cy="428.99" r="1.25" fill="#45b04f"/>
<line x1="363.00" y1="397.19" x2="363.00" y2="427.85" stroke="#45b04f" stroke-width="0.9"/>
<line x1="359.00" y1="397.19" x2="367.00" y2="397.19" stroke="#45b04f" stroke-width="0.9"/>
<line x1="359.00" y1="427.85" x2="367.00" y2="427.85" stroke="#45b04f" stroke-width="0.9"/>
<line x1="355.00" y1="412.23" x2="371.00" y2="412.23" stroke="#231f20" stroke-width="0.9"/>
<line x1="387.40" y1="441.60" x2="387.40" y2="444.20" stroke="#231f20" stroke-width="0.9"/>
<circle cx="387.40" cy="402.35" r="1.25" fill="#d21f3c"/>
<circle cx="387.40" cy="412.23" r="1.25" fill="#d21f3c"/>
<circle cx="387.40" cy="415.96" r="1.25" fill="#d21f3c"/>
<circle cx="383.00" cy="421.83" r="1.25" fill="#d21f3c"/>
<circle cx="392.10" cy="420.69" r="1.25" fill="#d21f3c"/>
<circle cx="387.40" cy="420.83" r="1.25" fill="#d21f3c"/>
<line x1="387.40" y1="408.22" x2="387.40" y2="423.41" stroke="#d21f3c" stroke-width="0.9"/>
<line x1="383.40" y1="408.22" x2="391.40" y2="408.22" stroke="#d21f3c" stroke-width="0.9"/>
<line x1="383.40" y1="423.41" x2="391.40" y2="423.41" stroke="#d21f3c" stroke-width="0.9"/>
<line x1="379.40" y1="415.96" x2="395.40" y2="415.96" stroke="#231f20" stroke-width="0.9"/>
<text x="0.00" y="0.00" font-size="7.6" text-anchor="middle" font-weight="bold" fill="#222" transform="translate(320.60,411.30) rotate(-90) scale(0.725,1)">Absolute # CD45.2+LSKs</text>
<text x="363.20" y="452.40" font-size="6.6" text-anchor="middle" font-style="italic" fill="#333" stroke="#333" stroke-width="0.1">Etv6<tspan font-size="3.43" dy="-2.77">+/+</tspan></text>
<text x="388.80" y="452.40" font-size="6.6" text-anchor="middle" font-style="italic" fill="#333" stroke="#333" stroke-width="0.1">Etv6<tspan font-size="3.43" dy="-2.77">R355X/+</tspan></text>
<text x="63.80" y="26.60" font-size="6.0" text-anchor="middle" fill="#231f20" stroke="#231f20" stroke-width="0.1">Primary Competitive Transplant</text>
<g transform="translate(35.70,41.10) scale(1.05)">
<path d="M9.6 -0.4 C12.5 -1.6 15.5 -3.2 18 -3.5 C19.8 -3.6 19.9 -1.6 18.9 -0.6 C18.2 0.1 17.6 0.6 17 1" fill="none" stroke="#d8a2a6" stroke-width="0.95" stroke-linecap="round"/>
<path d="M-5.3 5 L-5.4 8.6 L-3.2 8.9 L-3 5.5 Z M3.4 6 L3.5 10.4 L5.7 10.5 L5.6 5.6 Z" fill="#8f8385"/>
<path d="M-10.1 -2.2 L-5.2 -8.4 L-3.2 -5.9 C-1 -6.3 2.5 -6.4 5.5 -5 C8.4 -3.6 10 -1.2 9.9 1.4 C9.8 4 8.4 5.6 6.6 6.5 C4 7.6 0.6 7.6 -2.4 7 C-4.6 6.4 -6.4 4.6 -7.8 2.6 C-8.8 1 -9.6 -0.6 -10.1 -2.2 Z" fill="#3d3837"/>
<ellipse cx="1.2" cy="-5.3" rx="2.5" ry="2.7" fill="#cf9ea4"/>
<ellipse cx="1.3" cy="-5.0" rx="1.4" ry="1.6" fill="#dcb3b8"/>
</g>
<text x="28.70" y="60.00" font-size="6.1" text-anchor="middle" fill="#231f20" stroke="#231f20" stroke-width="0.1"><tspan font-style="italic">Etv6</tspan><tspan font-size="4.27" dy="-2.56">+/+</tspan><tspan dy="2.56">​</tspan> CD45.1<tspan font-size="4.27" dy="-2.56">+</tspan><tspan dy="2.56">​</tspan></text>
<text x="29.60" y="66.80" font-size="6.0" text-anchor="middle" fill="#231f20" stroke="#231f20" stroke-width="0.1">LSK Cells</text>
<text x="58.90" y="61.50" font-size="6.0" text-anchor="middle" fill="#231f20" stroke="#231f20" stroke-width="0.1">1:1</text>
<g transform="translate(38.20,80.60) scale(1.05)">
<path d="M9.6 -0.4 C12.5 -1.6 15.5 -3.2 18 -3.5 C19.8 -3.6 19.9 -1.6 18.9 -0.6 C18.2 0.1 17.6 0.6 17 1" fill="none" stroke="#d8a2a6" stroke-width="0.95" stroke-linecap="round"/>
<path d="M-5.3 5 L-5.4 8.6 L-3.2 8.9 L-3 5.5 Z M3.4 6 L3.5 10.4 L5.7 10.5 L5.6 5.6 Z" fill="#8f8385"/>
<path d="M-10.1 -2.2 L-5.2 -8.4 L-3.2 -5.9 C-1 -6.3 2.5 -6.4 5.5 -5 C8.4 -3.6 10 -1.2 9.9 1.4 C9.8 4 8.4 5.6 6.6 6.5 C4 7.6 0.6 7.6 -2.4 7 C-4.6 6.4 -6.4 4.6 -7.8 2.6 C-8.8 1 -9.6 -0.6 -10.1 -2.2 Z" fill="#3d3837"/>
<ellipse cx="1.2" cy="-5.3" rx="2.5" ry="2.7" fill="#cf9ea4"/>
<ellipse cx="1.3" cy="-5.0" rx="1.4" ry="1.6" fill="#dcb3b8"/>
</g>
<line x1="50.80" y1="46.70" x2="66.85" y2="54.81" stroke="#111" stroke-width="1.1"/>
<path d="M69.80 56.30 L65.60 56.19 L67.22 52.98 Z" fill="#111"/>
<line x1="50.80" y1="72.50" x2="66.84" y2="64.65" stroke="#111" stroke-width="1.1"/>
<path d="M69.80 63.20 L67.18 66.49 L65.60 63.25 Z" fill="#111"/>
<text x="37.30" y="101.20" font-size="6.0" text-anchor="middle" fill="#231f20" stroke="#231f20" stroke-width="0.1"><tspan font-style="italic">Etv6</tspan><tspan font-size="4.20" dy="-2.52">+/+</tspan><tspan dy="2.52">​</tspan> or <tspan font-style="italic">Etv6</tspan><tspan font-size="4.20" dy="-2.52">R355X/+</tspan><tspan dy="2.52">​</tspan></text>
<text x="37.30" y="107.90" font-size="6.0" text-anchor="middle" fill="#231f20" stroke="#231f20" stroke-width="0.1">CD45.2<tspan font-size="4.20" dy="-2.52">+</tspan><tspan dy="2.52">​</tspan> LSK Cells</text>
<circle cx="77.6" cy="49.4" r="4.6" fill="#f0d97c" stroke="#9a7a1c" stroke-width="0.8"/>
<path d="M77.10 48.53 L75.65 46.02 A3.90 3.90 0 0 1 79.55 46.02 L78.10 48.53 A1.00 1.00 0 0 0 77.10 48.53 Z" fill="#2a2210"/>
<path d="M78.60 49.40 L81.50 49.40 A3.90 3.90 0 0 1 79.55 52.78 L78.10 50.27 A1.00 1.00 0 0 0 78.60 49.40 Z" fill="#2a2210"/>
<path d="M77.10 50.27 L75.65 52.78 A3.90 3.90 0 0 1 73.70 49.40 L76.60 49.40 A1.00 1.00 0 0 0 77.10 50.27 Z" fill="#2a2210"/>
<circle cx="77.60" cy="49.40" r="0.65" fill="#2a2210"/>
<g transform="translate(85.30,64.60) scale(1.05)">
<path d="M9.6 -0.4 C12.5 -1.6 15.5 -3.2 18 -3.5 C19.8 -3.6 19.9 -1.6 18.9 -0.6 C18.2 0.1 17.6 0.6 17 1" fill="none" stroke="#d8a2a6" stroke-width="0.95" stroke-linecap="round"/>
<path d="M-5.3 5 L-5.4 8.6 L-3.2 8.9 L-3 5.5 Z M3.4 6 L3.5 10.4 L5.7 10.5 L5.6 5.6 Z" fill="#8f8385"/>
<path d="M-10.1 -2.2 L-5.2 -8.4 L-3.2 -5.9 C-1 -6.3 2.5 -6.4 5.5 -5 C8.4 -3.6 10 -1.2 9.9 1.4 C9.8 4 8.4 5.6 6.6 6.5 C4 7.6 0.6 7.6 -2.4 7 C-4.6 6.4 -6.4 4.6 -7.8 2.6 C-8.8 1 -9.6 -0.6 -10.1 -2.2 Z" fill="#3d3837"/>
<ellipse cx="1.2" cy="-5.3" rx="2.5" ry="2.7" fill="#cf9ea4"/>
<ellipse cx="1.3" cy="-5.0" rx="1.4" ry="1.6" fill="#dcb3b8"/>
</g>
<line x1="99.80" y1="59.80" x2="102.80" y2="57.22" stroke="#c07a80" stroke-width="0.5"/>
<line x1="102.80" y1="57.22" x2="107.50" y2="53.18" stroke="#4a3a3c" stroke-width="2.0"/>
<line x1="102.80" y1="57.22" x2="104.61" y2="55.66" stroke="#b3243a" stroke-width="1.2"/>
<line x1="107.50" y1="53.18" x2="110.50" y2="50.60" stroke="#6b6466" stroke-width="0.9"/>
<line x1="109.46" y1="49.39" x2="111.54" y2="51.81" stroke="#6b6466" stroke-width="0.9"/>
<line x1="106.46" y1="51.96" x2="108.55" y2="54.39" stroke="#4a3a3c" stroke-width="0.8"/>
<text x="90.90" y="83.00" font-size="6.0" text-anchor="middle" fill="#231f20" stroke="#231f20" stroke-width="0.1">Lethally-irradiated</text>
<text x="91.00" y="90.60" font-size="6.0" text-anchor="middle" fill="#231f20" stroke="#231f20" stroke-width="0.1">CD45.1/2<tspan font-size="4.20" dy="-2.52">+</tspan><tspan dy="2.52">​</tspan> recipient</text>
<text x="131.30" y="51.20" font-size="6.0" text-anchor="middle" fill="#231f20" stroke="#231f20" stroke-width="0.1">Bleed every</text>
<text x="131.10" y="58.20" font-size="6.0" text-anchor="middle" fill="#231f20" stroke="#231f20" stroke-width="0.1">4 weeks</text>
<line x1="111.70" y1="62.80" x2="146.80" y2="62.80" stroke="#111" stroke-width="1.1"/>
<path d="M150.10 62.80 L146.30 64.60 L146.30 61.00 Z" fill="#111"/>
<text x="174.00" y="58.20" font-size="6.0" text-anchor="middle" fill="#231f20" stroke="#231f20" stroke-width="0.1">6 Months</text>
<text x="174.00" y="65.60" font-size="6.0" text-anchor="middle" fill="#231f20" stroke="#231f20" stroke-width="0.1">Post-Transplant</text>
<text x="174.00" y="73.20" font-size="6.0" text-anchor="middle" fill="#231f20" stroke="#231f20" stroke-width="0.1">Analyze Tissue</text>
<text x="174.00" y="80.10" font-size="6.0" text-anchor="middle" fill="#231f20" stroke="#231f20" stroke-width="0.1">Chimerism</text>
<text x="38.40" y="373.60" font-size="6.0" text-anchor="middle" fill="#231f20" stroke="#231f20" stroke-width="0.1">Homing Assay</text>
<g transform="translate(36.30,387.30) scale(1.05)">
<path d="M9.6 -0.4 C12.5 -1.6 15.5 -3.2 18 -3.5 C19.8 -3.6 19.9 -1.6 18.9 -0.6 C18.2 0.1 17.6 0.6 17 1" fill="none" stroke="#d8a2a6" stroke-width="0.95" stroke-linecap="round"/>
<path d="M-5.3 5 L-5.4 8.6 L-3.2 8.9 L-3 5.5 Z M3.4 6 L3.5 10.4 L5.7 10.5 L5.6 5.6 Z" fill="#8f8385"/>
<path d="M-10.1 -2.2 L-5.2 -8.4 L-3.2 -5.9 C-1 -6.3 2.5 -6.4 5.5 -5 C8.4 -3.6 10 -1.2 9.9 1.4 C9.8 4 8.4 5.6 6.6 6.5 C4 7.6 0.6 7.6 -2.4 7 C-4.6 6.4 -6.4 4.6 -7.8 2.6 C-8.8 1 -9.6 -0.6 -10.1 -2.2 Z" fill="#3d3837"/>
<ellipse cx="1.2" cy="-5.3" rx="2.5" ry="2.7" fill="#cf9ea4"/>
<ellipse cx="1.3" cy="-5.0" rx="1.4" ry="1.6" fill="#dcb3b8"/>
</g>
<text x="28.70" y="405.90" font-size="6.1" text-anchor="middle" fill="#231f20" stroke="#231f20" stroke-width="0.1"><tspan font-style="italic">Etv6</tspan><tspan font-size="4.27" dy="-2.56">+/+</tspan><tspan dy="2.56">​</tspan> CD45.2<tspan font-size="4.27" dy="-2.56">+</tspan><tspan dy="2.56">​</tspan></text>
<text x="29.30" y="413.20" font-size="6.0" text-anchor="middle" fill="#231f20" stroke="#231f20" stroke-width="0.1">LSK Cells</text>
<text x="59.40" y="408.80" font-size="6.6" text-anchor="middle" fill="#231f20" stroke="#231f20" stroke-width="0.1">OR</text>
<line x1="51.50" y1="393.00" x2="67.80" y2="401.92" stroke="#111" stroke-width="1.1"/>
<path d="M70.70 403.50 L66.50 403.26 L68.23 400.10 Z" fill="#111"/>
<line x1="51.50" y1="419.20" x2="67.72" y2="411.43" stroke="#111" stroke-width="1.1"/>
<path d="M70.70 410.00 L68.05 413.27 L66.50 410.02 Z" fill="#111"/>
<g transform="translate(38.80,426.30) scale(1.05)">
<path d="M9.6 -0.4 C12.5 -1.6 15.5 -3.2 18 -3.5 C19.8 -3.6 19.9 -1.6 18.9 -0.6 C18.2 0.1 17.6 0.6 17 1" fill="none" stroke="#d8a2a6" stroke-width="0.95" stroke-linecap="round"/>
<path d="M-5.3 5 L-5.4 8.6 L-3.2 8.9 L-3 5.5 Z M3.4 6 L3.5 10.4 L5.7 10.5 L5.6 5.6 Z" fill="#8f8385"/>
<path d="M-10.1 -2.2 L-5.2 -8.4 L-3.2 -5.9 C-1 -6.3 2.5 -6.4 5.5 -5 C8.4 -3.6 10 -1.2 9.9 1.4 C9.8 4 8.4 5.6 6.6 6.5 C4 7.6 0.6 7.6 -2.4 7 C-4.6 6.4 -6.4 4.6 -7.8 2.6 C-8.8 1 -9.6 -0.6 -10.1 -2.2 Z" fill="#3d3837"/>
<ellipse cx="1.2" cy="-5.3" rx="2.5" ry="2.7" fill="#cf9ea4"/>
<ellipse cx="1.3" cy="-5.0" rx="1.4" ry="1.6" fill="#dcb3b8"/>
</g>
<text x="38.80" y="448.00" font-size="6.1" text-anchor="middle" fill="#231f20" stroke="#231f20" stroke-width="0.1"><tspan font-style="italic">Etv6</tspan><tspan font-size="4.64" dy="-2.56">R355X/+</tspan><tspan dy="2.56">​</tspan></text>
<text x="39.10" y="455.20" font-size="6.35" text-anchor="middle" fill="#231f20" stroke="#231f20" stroke-width="0.1">CD45.2+ LSK Cells</text>
<circle cx="78.8" cy="395.2" r="4.6" fill="#f0d97c" stroke="#9a7a1c" stroke-width="0.8"/>
<path d="M78.30 394.33 L76.85 391.82 A3.90 3.90 0 0 1 80.75 391.82 L79.30 394.33 A1.00 1.00 0 0 0 78.30 394.33 Z" fill="#2a2210"/>
<path d="M79.80 395.20 L82.70 395.20 A3.90 3.90 0 0 1 80.75 398.58 L79.30 396.07 A1.00 1.00 0 0 0 79.80 395.20 Z" fill="#2a2210"/>
<path d="M78.30 396.07 L76.85 398.58 A3.90 3.90 0 0 1 74.90 395.20 L77.80 395.20 A1.00 1.00 0 0 0 78.30 396.07 Z" fill="#2a2210"/>
<circle cx="78.80" cy="395.20" r="0.65" fill="#2a2210"/>
<g transform="translate(86.30,410.90) scale(1.05)">
<path d="M9.6 -0.4 C12.5 -1.6 15.5 -3.2 18 -3.5 C19.8 -3.6 19.9 -1.6 18.9 -0.6 C18.2 0.1 17.6 0.6 17 1" fill="none" stroke="#d8a2a6" stroke-width="0.95" stroke-linecap="round"/>
<path d="M-5.3 5 L-5.4 8.6 L-3.2 8.9 L-3 5.5 Z M3.4 6 L3.5 10.4 L5.7 10.5 L5.6 5.6 Z" fill="#8f8385"/>
<path d="M-10.1 -2.2 L-5.2 -8.4 L-3.2 -5.9 C-1 -6.3 2.5 -6.4 5.5 -5 C8.4 -3.6 10 -1.2 9.9 1.4 C9.8 4 8.4 5.6 6.6 6.5 C4 7.6 0.6 7.6 -2.4 7 C-4.6 6.4 -6.4 4.6 -7.8 2.6 C-8.8 1 -9.6 -0.6 -10.1 -2.2 Z" fill="#3d3837"/>
<ellipse cx="1.2" cy="-5.3" rx="2.5" ry="2.7" fill="#cf9ea4"/>
<ellipse cx="1.3" cy="-5.0" rx="1.4" ry="1.6" fill="#dcb3b8"/>
</g>
<line x1="100.50" y1="405.00" x2="103.64" y2="402.54" stroke="#c07a80" stroke-width="0.5"/>
<line x1="103.64" y1="402.54" x2="108.56" y2="398.66" stroke="#4a3a3c" stroke-width="2.0"/>
<line x1="103.64" y1="402.54" x2="105.54" y2="401.04" stroke="#b3243a" stroke-width="1.2"/>
<line x1="108.56" y1="398.66" x2="111.70" y2="396.20" stroke="#6b6466" stroke-width="0.9"/>
<line x1="110.71" y1="394.94" x2="112.69" y2="397.46" stroke="#6b6466" stroke-width="0.9"/>
<line x1="107.58" y1="397.41" x2="109.55" y2="399.92" stroke="#4a3a3c" stroke-width="0.8"/>
<text x="91.75" y="431.00" font-size="6.3" text-anchor="middle" fill="#231f20" stroke="#231f20" stroke-width="0.1">Sub-lethally</text>
<text x="90.60" y="437.90" font-size="6.0" text-anchor="middle" fill="#231f20" stroke="#231f20" stroke-width="0.1">irradiated</text>
<text x="90.30" y="445.40" font-size="6.3" text-anchor="middle" fill="#231f20" stroke="#231f20" stroke-width="0.1">CD45.1<tspan font-size="4.41" dy="-2.65">+</tspan><tspan dy="2.65">​</tspan> recipient</text>
<text x="129.20" y="404.80" font-size="6.3" text-anchor="middle" fill="#231f20" stroke="#231f20" stroke-width="0.1">18 Hours</text>
<line x1="112.50" y1="409.10" x2="146.90" y2="409.10" stroke="#111" stroke-width="1.1"/>
<path d="M150.20 409.10 L146.40 410.90 L146.40 407.30 Z" fill="#111"/>
<text x="176.20" y="401.60" font-size="6.3" text-anchor="middle" fill="#231f20" stroke="#231f20" stroke-width="0.1">Quantify</text>
<text x="175.60" y="409.10" font-size="6.3" text-anchor="middle" fill="#231f20" stroke="#231f20" stroke-width="0.1">CD45.2+</text>
<text x="176.20" y="416.60" font-size="6.3" text-anchor="middle" fill="#231f20" stroke="#231f20" stroke-width="0.1">LSK Cells by</text>
<text x="176.00" y="424.10" font-size="6.3" text-anchor="middle" fill="#231f20" stroke="#231f20" stroke-width="0.1">Flow Cytometry</text>
<text x="66.70" y="491.20" font-size="6.0" text-anchor="middle" fill="#231f20" stroke="#231f20" stroke-width="0.1">Serial Competitive Transplant</text>
<g transform="translate(43.30,504.00) scale(1.05)">
<path d="M9.6 -0.4 C12.5 -1.6 15.5 -3.2 18 -3.5 C19.8 -3.6 19.9 -1.6 18.9 -0.6 C18.2 0.1 17.6 0.6 17 1" fill="none" stroke="#d8a2a6" stroke-width="0.95" stroke-linecap="round"/>
<path d="M-5.3 5 L-5.4 8.6 L-3.2 8.9 L-3 5.5 Z M3.4 6 L3.5 10.4 L5.7 10.5 L5.6 5.6 Z" fill="#8f8385"/>
<path d="M-10.1 -2.2 L-5.2 -8.4 L-3.2 -5.9 C-1 -6.3 2.5 -6.4 5.5 -5 C8.4 -3.6 10 -1.2 9.9 1.4 C9.8 4 8.4 5.6 6.6 6.5 C4 7.6 0.6 7.6 -2.4 7 C-4.6 6.4 -6.4 4.6 -7.8 2.6 C-8.8 1 -9.6 -0.6 -10.1 -2.2 Z" fill="#3d3837"/>
<ellipse cx="1.2" cy="-5.3" rx="2.5" ry="2.7" fill="#cf9ea4"/>
<ellipse cx="1.3" cy="-5.0" rx="1.4" ry="1.6" fill="#dcb3b8"/>
</g>
<text x="34.90" y="523.50" font-size="6.0" text-anchor="middle" fill="#231f20" stroke="#231f20" stroke-width="0.1"><tspan font-style="italic">Etv6</tspan><tspan font-size="4.20" dy="-2.52">+/+</tspan><tspan dy="2.52">​</tspan> CD45.1<tspan font-size="4.20" dy="-2.52">+</tspan><tspan dy="2.52">​</tspan></text>
<text x="37.40" y="530.50" font-size="6.0" text-anchor="middle" fill="#231f20" stroke="#231f20" stroke-width="0.1">BM cells</text>
<text x="65.20" y="526.50" font-size="6.0" text-anchor="middle" fill="#231f20" stroke="#231f20" stroke-width="0.1">1:1</text>
<g transform="translate(46.00,543.60) scale(1.05)">
<path d="M9.6 -0.4 C12.5 -1.6 15.5 -3.2 18 -3.5 C19.8 -3.6 19.9 -1.6 18.9 -0.6 C18.2 0.1 17.6 0.6 17 1" fill="none" stroke="#d8a2a6" stroke-width="0.95" stroke-linecap="round"/>
<path d="M-5.3 5 L-5.4 8.6 L-3.2 8.9 L-3 5.5 Z M3.4 6 L3.5 10.4 L5.7 10.5 L5.6 5.6 Z" fill="#8f8385"/>
<path d="M-10.1 -2.2 L-5.2 -8.4 L-3.2 -5.9 C-1 -6.3 2.5 -6.4 5.5 -5 C8.4 -3.6 10 -1.2 9.9 1.4 C9.8 4 8.4 5.6 6.6 6.5 C4 7.6 0.6 7.6 -2.4 7 C-4.6 6.4 -6.4 4.6 -7.8 2.6 C-8.8 1 -9.6 -0.6 -10.1 -2.2 Z" fill="#3d3837"/>
<ellipse cx="1.2" cy="-5.3" rx="2.5" ry="2.7" fill="#cf9ea4"/>
<ellipse cx="1.3" cy="-5.0" rx="1.4" ry="1.6" fill="#dcb3b8"/>
</g>
<line x1="58.60" y1="510.30" x2="73.82" y2="518.79" stroke="#111" stroke-width="1.1"/>
<path d="M76.70 520.40 L72.50 520.12 L74.26 516.98 Z" fill="#111"/>
<line x1="58.60" y1="535.60" x2="73.71" y2="528.50" stroke="#111" stroke-width="1.1"/>
<path d="M76.70 527.10 L74.03 530.34 L72.50 527.09 Z" fill="#111"/>
<text x="38.00" y="563.90" font-size="6.25" text-anchor="middle" fill="#231f20" stroke="#231f20" stroke-width="0.1">CD45.2<tspan font-size="4.38" dy="-2.62">+</tspan><tspan dy="2.62">​</tspan> BM cells from</text>
<text x="38.40" y="570.30" font-size="6.0" text-anchor="middle" fill="#231f20" stroke="#231f20" stroke-width="0.1">primary recipients</text>
<circle cx="85.2" cy="512.6" r="4.6" fill="#f0d97c" stroke="#9a7a1c" stroke-width="0.8"/>
<path d="M84.70 511.73 L83.25 509.22 A3.90 3.90 0 0 1 87.15 509.22 L85.70 511.73 A1.00 1.00 0 0 0 84.70 511.73 Z" fill="#2a2210"/>
<path d="M86.20 512.60 L89.10 512.60 A3.90 3.90 0 0 1 87.15 515.98 L85.70 513.47 A1.00 1.00 0 0 0 86.20 512.60 Z" fill="#2a2210"/>
<path d="M84.70 513.47 L83.25 515.98 A3.90 3.90 0 0 1 81.30 512.60 L84.20 512.60 A1.00 1.00 0 0 0 84.70 513.47 Z" fill="#2a2210"/>
<circle cx="85.20" cy="512.60" r="0.65" fill="#2a2210"/>
<g transform="translate(93.30,528.20) scale(1.05)">
<path d="M9.6 -0.4 C12.5 -1.6 15.5 -3.2 18 -3.5 C19.8 -3.6 19.9 -1.6 18.9 -0.6 C18.2 0.1 17.6 0.6 17 1" fill="none" stroke="#d8a2a6" stroke-width="0.95" stroke-linecap="round"/>
<path d="M-5.3 5 L-5.4 8.6 L-3.2 8.9 L-3 5.5 Z M3.4 6 L3.5 10.4 L5.7 10.5 L5.6 5.6 Z" fill="#8f8385"/>
<path d="M-10.1 -2.2 L-5.2 -8.4 L-3.2 -5.9 C-1 -6.3 2.5 -6.4 5.5 -5 C8.4 -3.6 10 -1.2 9.9 1.4 C9.8 4 8.4 5.6 6.6 6.5 C4 7.6 0.6 7.6 -2.4 7 C-4.6 6.4 -6.4 4.6 -7.8 2.6 C-8.8 1 -9.6 -0.6 -10.1 -2.2 Z" fill="#3d3837"/>
<ellipse cx="1.2" cy="-5.3" rx="2.5" ry="2.7" fill="#cf9ea4"/>
<ellipse cx="1.3" cy="-5.0" rx="1.4" ry="1.6" fill="#dcb3b8"/>
</g>
<line x1="108.00" y1="521.50" x2="110.86" y2="519.29" stroke="#c07a80" stroke-width="0.5"/>
<line x1="110.86" y1="519.29" x2="115.34" y2="515.81" stroke="#4a3a3c" stroke-width="2.0"/>
<line x1="110.86" y1="519.29" x2="112.59" y2="517.95" stroke="#b3243a" stroke-width="1.2"/>
<line x1="115.34" y1="515.81" x2="118.20" y2="513.60" stroke="#6b6466" stroke-width="0.9"/>
<line x1="117.22" y1="512.34" x2="119.18" y2="514.86" stroke="#6b6466" stroke-width="0.9"/>
<line x1="114.36" y1="514.55" x2="116.32" y2="517.08" stroke="#4a3a3c" stroke-width="0.8"/>
<text x="96.30" y="546.50" font-size="6.0" text-anchor="middle" fill="#231f20" stroke="#231f20" stroke-width="0.1">Lethally-irradiated</text>
<text x="96.30" y="554.00" font-size="6.0" text-anchor="middle" fill="#231f20" stroke="#231f20" stroke-width="0.1">CD45.1/2<tspan font-size="4.20" dy="-2.52">+</tspan><tspan dy="2.52">​</tspan> recipient</text>
<text x="138.90" y="513.70" font-size="6.0" text-anchor="middle" fill="#231f20" stroke="#231f20" stroke-width="0.1">Bleed every</text>
<text x="138.90" y="521.00" font-size="6.0" text-anchor="middle" fill="#231f20" stroke="#231f20" stroke-width="0.1">4 weeks</text>
<line x1="118.70" y1="525.80" x2="154.20" y2="525.80" stroke="#111" stroke-width="1.1"/>
<path d="M157.50 525.80 L153.70 527.60 L153.70 524.00 Z" fill="#111"/>
<text x="176.30" y="519.60" font-size="6.0" text-anchor="middle" fill="#231f20" stroke="#231f20" stroke-width="0.1">Collect</text>
<text x="176.30" y="526.90" font-size="6.0" text-anchor="middle" fill="#231f20" stroke="#231f20" stroke-width="0.1">BM</text>
<text x="176.30" y="534.40" font-size="6.0" text-anchor="middle" fill="#231f20" stroke="#231f20" stroke-width="0.1">and Repeat</text>
<rect x="0" y="0" width="520" height="1" fill="#6a6a6a"/>
<rect x="0" y="0" width="1" height="591" fill="#6a6a6a"/>
<rect x="519" y="0" width="1" height="591" fill="#404040"/>
<rect x="518.6" y="0" width="0.4" height="591" fill="#909090"/>
<rect x="0" y="590" width="520" height="1" fill="#404040"/>
<rect x="0" y="589.4" width="520" height="0.6" fill="#909090"/>
</svg>
</body></html>
